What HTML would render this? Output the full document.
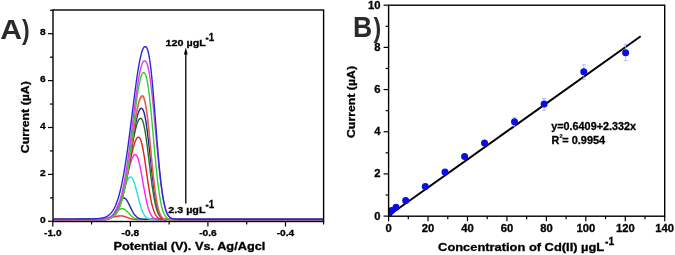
<!DOCTYPE html>
<html><head><meta charset="utf-8"><style>
html,body{margin:0;padding:0;background:#fff;}
body{width:675px;height:255px;overflow:hidden;}
svg{display:block;will-change:transform;}
text{font-family:"Liberation Sans", sans-serif;font-weight:bold;fill:#000;stroke:#000;stroke-width:0.3px;}
.tka{font-size:9px;}
.tkb{font-size:10.4px;}
.ti{font-size:10.8px;}
.pl{font-size:27px;fill:#2b2b2b;stroke:none;}
.an{font-size:9.6px;}
.sp{font-size:10.3px;}
.sp2{font-size:10.6px;}
.eq{font-size:10.8px;}
</style></head><body>
<svg width="675" height="255" viewBox="0 0 675 255">
<defs>
<clipPath id="clipA"><rect x="53.0" y="10.0" width="270.6" height="211.5"/></clipPath>
<clipPath id="clipB"><rect x="388.6" y="5.2" width="276.1" height="211.0"/></clipPath>
</defs>
<g clip-path="url(#clipA)">
<path d="M53.80,219.60 L54.30,219.60 L54.80,219.60 L55.30,219.60 L55.80,219.60 L56.30,219.60 L56.80,219.60 L57.30,219.60 L57.80,219.60 L58.30,219.60 L58.80,219.60 L59.30,219.60 L59.80,219.60 L60.30,219.60 L60.80,219.60 L61.30,219.60 L61.80,219.60 L62.30,219.60 L62.80,219.60 L63.30,219.60 L63.80,219.60 L64.30,219.60 L64.80,219.60 L65.30,219.60 L65.80,219.59 L66.30,219.59 L66.80,219.59 L67.30,219.59 L67.80,219.59 L68.30,219.59 L68.80,219.59 L69.30,219.59 L69.80,219.59 L70.30,219.59 L70.80,219.59 L71.30,219.59 L71.80,219.59 L72.30,219.59 L72.80,219.59 L73.30,219.59 L73.80,219.59 L74.30,219.59 L74.80,219.59 L75.30,219.59 L75.80,219.59 L76.30,219.59 L76.80,219.59 L77.30,219.59 L77.80,219.59 L78.30,219.59 L78.80,219.59 L79.30,219.59 L79.80,219.58 L80.30,219.58 L80.80,219.58 L81.30,219.58 L81.80,219.58 L82.30,219.58 L82.80,219.58 L83.30,219.58 L83.80,219.58 L84.30,219.58 L84.80,219.58 L85.30,219.58 L85.80,219.57 L86.30,219.57 L86.80,219.57 L87.30,219.57 L87.80,219.57 L88.30,219.57 L88.80,219.56 L89.30,219.56 L89.80,219.56 L90.30,219.56 L90.80,219.55 L91.30,219.55 L91.80,219.54 L92.30,219.54 L92.80,219.53 L93.30,219.53 L93.80,219.52 L94.30,219.51 L94.80,219.50 L95.30,219.49 L95.80,219.48 L96.30,219.47 L96.80,219.45 L97.30,219.43 L97.80,219.41 L98.30,219.39 L98.80,219.37 L99.30,219.34 L99.80,219.31 L100.30,219.28 L100.80,219.25 L101.30,219.21 L101.80,219.16 L102.30,219.12 L102.80,219.07 L103.30,219.01 L103.80,218.95 L104.30,218.89 L104.80,218.82 L105.30,218.74 L105.80,218.66 L106.30,218.58 L106.80,218.49 L107.30,218.40 L107.80,218.30 L108.30,218.20 L108.80,218.09 L109.30,217.98 L109.80,217.87 L110.30,217.75 L110.80,217.63 L111.30,217.51 L111.80,217.39 L112.30,217.27 L112.80,217.14 L113.30,217.02 L113.80,216.91 L114.30,216.79 L114.80,216.68 L115.30,216.57 L115.80,216.47 L116.30,216.37 L116.80,216.28 L117.30,216.20 L117.80,216.13 L118.30,216.06 L118.80,216.01 L119.30,215.97 L119.80,215.93 L120.30,215.91 L120.80,215.90 L121.30,215.90 L121.80,215.93 L122.30,215.99 L122.80,216.06 L123.30,216.16 L123.80,216.29 L124.30,216.42 L124.80,216.58 L125.30,216.75 L125.80,216.93 L126.30,217.11 L126.80,217.30 L127.30,217.49 L127.80,217.67 L128.30,217.86 L128.80,218.04 L129.30,218.20 L129.80,218.36 L130.30,218.51 L130.80,218.65 L131.30,218.78 L131.80,218.89 L132.30,219.00 L132.80,219.09 L133.30,219.17 L133.80,219.24 L134.30,219.30 L134.80,219.35 L135.30,219.40 L135.80,219.44 L136.30,219.47 L136.80,219.49 L137.30,219.52 L137.80,219.53 L138.30,219.55 L138.80,219.56 L139.30,219.57 L139.80,219.58 L140.30,219.58 L140.80,219.59 L141.30,219.59 L141.80,219.59 L142.30,219.59 L142.80,219.60 L143.30,219.60 L143.80,219.60 L144.30,219.60 L144.80,219.60 L145.30,219.60 L145.80,219.60 L146.30,219.60 L146.80,219.60 L147.30,219.60 L147.80,219.60 L148.30,219.60 L148.80,219.60 L149.30,219.60 L149.80,219.60 L150.30,219.60 L150.80,219.60 L151.30,219.60 L151.80,219.60 L152.30,219.60 L152.80,219.60 L153.30,219.60 L153.80,219.60 L154.30,219.60 L154.80,219.60 L155.30,219.60 L155.80,219.60 L156.30,219.60 L156.80,219.60 L157.30,219.60 L157.80,219.60 L158.30,219.60 L158.80,219.60 L159.30,219.60 L159.80,219.60 L160.30,219.60 L160.80,219.60 L161.30,219.60 L161.80,219.60 L162.30,219.60 L162.80,219.60 L163.30,219.60 L163.80,219.60 L164.30,219.60 L164.80,219.60 L165.30,219.60 L165.80,219.60 L166.30,219.60 L166.80,219.60 L167.30,219.60 L167.80,219.60 L168.30,219.60 L168.80,219.60 L169.30,219.60 L169.80,219.60 L170.30,219.60 L170.80,219.60 L171.30,219.60 L171.80,219.60 L172.30,219.60 L172.80,219.60 L173.30,219.60 L173.80,219.60 L174.30,219.60 L174.80,219.60 L175.30,219.60 L175.80,219.60 L176.30,219.60 L176.80,219.60 L177.30,219.60 L177.80,219.60 L178.30,219.60 L178.80,219.60 L179.30,219.60 L179.80,219.60 L180.30,219.60 L180.80,219.60 L181.30,219.60 L181.80,219.60 L182.30,219.60 L182.80,219.60 L183.30,219.60 L183.80,219.60 L184.30,219.60 L184.80,219.60 L185.30,219.60 L185.80,219.60 L186.30,219.60 L186.80,219.60 L187.30,219.60 L187.80,219.60 L188.30,219.60 L188.80,219.60 L189.30,219.60 L189.80,219.60 L190.30,219.60 L190.80,219.60 L191.30,219.60 L191.80,219.60 L192.30,219.60 L192.80,219.60 L193.30,219.60 L193.80,219.60 L194.30,219.60 L194.80,219.60 L195.30,219.60 L195.80,219.60 L196.30,219.60 L196.80,219.60 L197.30,219.60 L197.80,219.60 L198.30,219.60 L198.80,219.60 L199.30,219.60 L199.80,219.60 L200.30,219.60 L200.80,219.60 L201.30,219.60 L201.80,219.60 L202.30,219.60 L202.80,219.60 L203.30,219.60 L203.80,219.60 L204.30,219.60 L204.80,219.60 L205.30,219.60 L205.80,219.60 L206.30,219.60 L206.80,219.60 L207.30,219.60 L207.80,219.60 L208.30,219.60 L208.80,219.60 L209.30,219.60 L209.80,219.60 L210.30,219.60 L210.80,219.60 L211.30,219.60 L211.80,219.60 L212.30,219.60 L212.80,219.60 L213.30,219.60 L213.80,219.60 L214.30,219.60 L214.80,219.60 L215.30,219.60 L215.80,219.60 L216.30,219.60 L216.80,219.60 L217.30,219.60 L217.80,219.60 L218.30,219.60 L218.80,219.60 L219.30,219.60 L219.80,219.60 L220.30,219.60 L220.80,219.60 L221.30,219.60 L221.80,219.60 L222.30,219.60 L222.80,219.60 L223.30,219.60 L223.80,219.60 L224.30,219.60 L224.80,219.60 L225.30,219.60 L225.80,219.60 L226.30,219.60 L226.80,219.60 L227.30,219.60 L227.80,219.60 L228.30,219.60 L228.80,219.60 L229.30,219.60 L229.80,219.60 L230.30,219.60 L230.80,219.60 L231.30,219.60 L231.80,219.60 L232.30,219.60 L232.80,219.60 L233.30,219.60 L233.80,219.60 L234.30,219.60 L234.80,219.60 L235.30,219.60 L235.80,219.60 L236.30,219.60 L236.80,219.60 L237.30,219.60 L237.80,219.60 L238.30,219.60 L238.80,219.60 L239.30,219.60 L239.80,219.60 L240.30,219.60 L240.80,219.60 L241.30,219.60 L241.80,219.60 L242.30,219.60 L242.80,219.60 L243.30,219.60 L243.80,219.60 L244.30,219.60 L244.80,219.60 L245.30,219.60 L245.80,219.60 L246.30,219.60 L246.80,219.60 L247.30,219.60 L247.80,219.60 L248.30,219.60 L248.80,219.60 L249.30,219.60 L249.80,219.60 L250.30,219.60 L250.80,219.60 L251.30,219.60 L251.80,219.60 L252.30,219.60 L252.80,219.60 L253.30,219.60 L253.80,219.60 L254.30,219.60 L254.80,219.60 L255.30,219.60 L255.80,219.60 L256.30,219.60 L256.80,219.60 L257.30,219.60 L257.80,219.60 L258.30,219.60 L258.80,219.60 L259.30,219.60 L259.80,219.60 L260.30,219.60 L260.80,219.60 L261.30,219.60 L261.80,219.60 L262.30,219.60 L262.80,219.60 L263.30,219.60 L263.80,219.60 L264.30,219.60 L264.80,219.60 L265.30,219.60 L265.80,219.60 L266.30,219.60 L266.80,219.60 L267.30,219.60 L267.80,219.60 L268.30,219.60 L268.80,219.60 L269.30,219.60 L269.80,219.60 L270.30,219.60 L270.80,219.60 L271.30,219.60 L271.80,219.60 L272.30,219.60 L272.80,219.60 L273.30,219.60 L273.80,219.60 L274.30,219.60 L274.80,219.60 L275.30,219.60 L275.80,219.60 L276.30,219.60 L276.80,219.60 L277.30,219.60 L277.80,219.60 L278.30,219.60 L278.80,219.60 L279.30,219.60 L279.80,219.60 L280.30,219.60 L280.80,219.60 L281.30,219.60 L281.80,219.60 L282.30,219.60 L282.80,219.60 L283.30,219.60 L283.80,219.60 L284.30,219.60 L284.80,219.60 L285.30,219.60 L285.80,219.60 L286.30,219.60 L286.80,219.60 L287.30,219.60 L287.80,219.60 L288.30,219.60 L288.80,219.60 L289.30,219.60 L289.80,219.60 L290.30,219.60 L290.80,219.60 L291.30,219.60 L291.80,219.60 L292.30,219.60 L292.80,219.60 L293.30,219.60 L293.80,219.60 L294.30,219.60 L294.80,219.60 L295.30,219.60 L295.80,219.60 L296.30,219.60 L296.80,219.60 L297.30,219.60 L297.80,219.60 L298.30,219.60 L298.80,219.60 L299.30,219.60 L299.80,219.60 L300.30,219.60 L300.80,219.60 L301.30,219.60 L301.80,219.60 L302.30,219.60 L302.80,219.60 L303.30,219.60 L303.80,219.60 L304.30,219.60 L304.80,219.60 L305.30,219.60 L305.80,219.60 L306.30,219.60 L306.80,219.60 L307.30,219.60 L307.80,219.60 L308.30,219.60 L308.80,219.60 L309.30,219.60 L309.80,219.60 L310.30,219.60 L310.80,219.60 L311.30,219.60 L311.80,219.60 L312.30,219.60 L312.80,219.60 L313.30,219.60 L313.80,219.60 L314.30,219.60 L314.80,219.60 L315.30,219.60 L315.80,219.60 L316.30,219.60 L316.80,219.60 L317.30,219.60 L317.80,219.60 L318.30,219.60 L318.80,219.60 L319.30,219.60 L319.80,219.60 L320.30,219.60 L320.80,219.60 L321.30,219.60 L321.80,219.60 L322.30,219.60 L322.80,219.60" fill="none" stroke="#e83030" stroke-width="1.4"/>
<path d="M53.80,219.40 L54.30,219.40 L54.80,219.40 L55.30,219.40 L55.80,219.40 L56.30,219.40 L56.80,219.40 L57.30,219.40 L57.80,219.40 L58.30,219.40 L58.80,219.40 L59.30,219.40 L59.80,219.40 L60.30,219.40 L60.80,219.40 L61.30,219.40 L61.80,219.40 L62.30,219.40 L62.80,219.40 L63.30,219.40 L63.80,219.40 L64.30,219.40 L64.80,219.40 L65.30,219.40 L65.80,219.40 L66.30,219.40 L66.80,219.40 L67.30,219.40 L67.80,219.40 L68.30,219.40 L68.80,219.40 L69.30,219.40 L69.80,219.40 L70.30,219.40 L70.80,219.39 L71.30,219.39 L71.80,219.39 L72.30,219.39 L72.80,219.39 L73.30,219.39 L73.80,219.39 L74.30,219.39 L74.80,219.39 L75.30,219.39 L75.80,219.39 L76.30,219.39 L76.80,219.39 L77.30,219.39 L77.80,219.39 L78.30,219.39 L78.80,219.39 L79.30,219.39 L79.80,219.39 L80.30,219.39 L80.80,219.38 L81.30,219.38 L81.80,219.38 L82.30,219.38 L82.80,219.38 L83.30,219.38 L83.80,219.38 L84.30,219.38 L84.80,219.38 L85.30,219.38 L85.80,219.37 L86.30,219.37 L86.80,219.37 L87.30,219.37 L87.80,219.37 L88.30,219.37 L88.80,219.36 L89.30,219.36 L89.80,219.36 L90.30,219.36 L90.80,219.36 L91.30,219.35 L91.80,219.35 L92.30,219.35 L92.80,219.35 L93.30,219.34 L93.80,219.34 L94.30,219.34 L94.80,219.33 L95.30,219.33 L95.80,219.32 L96.30,219.32 L96.80,219.31 L97.30,219.30 L97.80,219.30 L98.30,219.29 L98.80,219.27 L99.30,219.26 L99.80,219.25 L100.30,219.23 L100.80,219.21 L101.30,219.18 L101.80,219.15 L102.30,219.12 L102.80,219.08 L103.30,219.03 L103.80,218.98 L104.30,218.91 L104.80,218.84 L105.30,218.75 L105.80,218.65 L106.30,218.54 L106.80,218.41 L107.30,218.26 L107.80,218.09 L108.30,217.90 L108.80,217.69 L109.30,217.46 L109.80,217.20 L110.30,216.92 L110.80,216.61 L111.30,216.28 L111.80,215.92 L112.30,215.54 L112.80,215.14 L113.30,214.72 L113.80,214.28 L114.30,213.83 L114.80,213.37 L115.30,212.90 L115.80,212.42 L116.30,211.96 L116.80,211.50 L117.30,211.05 L117.80,210.63 L118.30,210.23 L118.80,209.87 L119.30,209.54 L119.80,209.25 L120.30,209.01 L120.80,208.83 L121.30,208.69 L121.80,208.62 L122.30,208.60 L122.80,208.65 L123.30,208.77 L123.80,208.95 L124.30,209.20 L124.80,209.52 L125.30,209.88 L125.80,210.30 L126.30,210.76 L126.80,211.25 L127.30,211.76 L127.80,212.29 L128.30,212.84 L128.80,213.38 L129.30,213.91 L129.80,214.44 L130.30,214.94 L130.80,215.42 L131.30,215.87 L131.80,216.30 L132.30,216.69 L132.80,217.05 L133.30,217.37 L133.80,217.67 L134.30,217.93 L134.80,218.16 L135.30,218.36 L135.80,218.54 L136.30,218.69 L136.80,218.81 L137.30,218.92 L137.80,219.01 L138.30,219.09 L138.80,219.15 L139.30,219.21 L139.80,219.25 L140.30,219.28 L140.80,219.31 L141.30,219.33 L141.80,219.35 L142.30,219.36 L142.80,219.37 L143.30,219.38 L143.80,219.38 L144.30,219.39 L144.80,219.39 L145.30,219.39 L145.80,219.40 L146.30,219.40 L146.80,219.40 L147.30,219.40 L147.80,219.40 L148.30,219.40 L148.80,219.40 L149.30,219.40 L149.80,219.40 L150.30,219.40 L150.80,219.40 L151.30,219.40 L151.80,219.40 L152.30,219.40 L152.80,219.40 L153.30,219.40 L153.80,219.40 L154.30,219.40 L154.80,219.40 L155.30,219.40 L155.80,219.40 L156.30,219.40 L156.80,219.40 L157.30,219.40 L157.80,219.40 L158.30,219.40 L158.80,219.40 L159.30,219.40 L159.80,219.40 L160.30,219.40 L160.80,219.40 L161.30,219.40 L161.80,219.40 L162.30,219.40 L162.80,219.40 L163.30,219.40 L163.80,219.40 L164.30,219.40 L164.80,219.40 L165.30,219.40 L165.80,219.40 L166.30,219.40 L166.80,219.40 L167.30,219.40 L167.80,219.40 L168.30,219.40 L168.80,219.40 L169.30,219.40 L169.80,219.40 L170.30,219.40 L170.80,219.40 L171.30,219.40 L171.80,219.40 L172.30,219.40 L172.80,219.40 L173.30,219.40 L173.80,219.40 L174.30,219.40 L174.80,219.40 L175.30,219.40 L175.80,219.40 L176.30,219.40 L176.80,219.40 L177.30,219.40 L177.80,219.40 L178.30,219.40 L178.80,219.40 L179.30,219.40 L179.80,219.40 L180.30,219.40 L180.80,219.40 L181.30,219.40 L181.80,219.40 L182.30,219.40 L182.80,219.40 L183.30,219.40 L183.80,219.40 L184.30,219.40 L184.80,219.40 L185.30,219.40 L185.80,219.40 L186.30,219.40 L186.80,219.40 L187.30,219.40 L187.80,219.40 L188.30,219.40 L188.80,219.40 L189.30,219.40 L189.80,219.40 L190.30,219.40 L190.80,219.40 L191.30,219.40 L191.80,219.40 L192.30,219.40 L192.80,219.40 L193.30,219.40 L193.80,219.40 L194.30,219.40 L194.80,219.40 L195.30,219.40 L195.80,219.40 L196.30,219.40 L196.80,219.40 L197.30,219.40 L197.80,219.40 L198.30,219.40 L198.80,219.40 L199.30,219.40 L199.80,219.40 L200.30,219.40 L200.80,219.40 L201.30,219.40 L201.80,219.40 L202.30,219.40 L202.80,219.40 L203.30,219.40 L203.80,219.40 L204.30,219.40 L204.80,219.40 L205.30,219.40 L205.80,219.40 L206.30,219.40 L206.80,219.40 L207.30,219.40 L207.80,219.40 L208.30,219.40 L208.80,219.40 L209.30,219.40 L209.80,219.40 L210.30,219.40 L210.80,219.40 L211.30,219.40 L211.80,219.40 L212.30,219.40 L212.80,219.40 L213.30,219.40 L213.80,219.40 L214.30,219.40 L214.80,219.40 L215.30,219.40 L215.80,219.40 L216.30,219.40 L216.80,219.40 L217.30,219.40 L217.80,219.40 L218.30,219.40 L218.80,219.40 L219.30,219.40 L219.80,219.40 L220.30,219.40 L220.80,219.40 L221.30,219.40 L221.80,219.40 L222.30,219.40 L222.80,219.40 L223.30,219.40 L223.80,219.40 L224.30,219.40 L224.80,219.40 L225.30,219.40 L225.80,219.40 L226.30,219.40 L226.80,219.40 L227.30,219.40 L227.80,219.40 L228.30,219.40 L228.80,219.40 L229.30,219.40 L229.80,219.40 L230.30,219.40 L230.80,219.40 L231.30,219.40 L231.80,219.40 L232.30,219.40 L232.80,219.40 L233.30,219.40 L233.80,219.40 L234.30,219.40 L234.80,219.40 L235.30,219.40 L235.80,219.40 L236.30,219.40 L236.80,219.40 L237.30,219.40 L237.80,219.40 L238.30,219.40 L238.80,219.40 L239.30,219.40 L239.80,219.40 L240.30,219.40 L240.80,219.40 L241.30,219.40 L241.80,219.40 L242.30,219.40 L242.80,219.40 L243.30,219.40 L243.80,219.40 L244.30,219.40 L244.80,219.40 L245.30,219.40 L245.80,219.40 L246.30,219.40 L246.80,219.40 L247.30,219.40 L247.80,219.40 L248.30,219.40 L248.80,219.40 L249.30,219.40 L249.80,219.40 L250.30,219.40 L250.80,219.40 L251.30,219.40 L251.80,219.40 L252.30,219.40 L252.80,219.40 L253.30,219.40 L253.80,219.40 L254.30,219.40 L254.80,219.40 L255.30,219.40 L255.80,219.40 L256.30,219.40 L256.80,219.40 L257.30,219.40 L257.80,219.40 L258.30,219.40 L258.80,219.40 L259.30,219.40 L259.80,219.40 L260.30,219.40 L260.80,219.40 L261.30,219.40 L261.80,219.40 L262.30,219.40 L262.80,219.40 L263.30,219.40 L263.80,219.40 L264.30,219.40 L264.80,219.40 L265.30,219.40 L265.80,219.40 L266.30,219.40 L266.80,219.40 L267.30,219.40 L267.80,219.40 L268.30,219.40 L268.80,219.40 L269.30,219.40 L269.80,219.40 L270.30,219.40 L270.80,219.40 L271.30,219.40 L271.80,219.40 L272.30,219.40 L272.80,219.40 L273.30,219.40 L273.80,219.40 L274.30,219.40 L274.80,219.40 L275.30,219.40 L275.80,219.40 L276.30,219.40 L276.80,219.40 L277.30,219.40 L277.80,219.40 L278.30,219.40 L278.80,219.40 L279.30,219.40 L279.80,219.40 L280.30,219.40 L280.80,219.40 L281.30,219.40 L281.80,219.40 L282.30,219.40 L282.80,219.40 L283.30,219.40 L283.80,219.40 L284.30,219.40 L284.80,219.40 L285.30,219.40 L285.80,219.40 L286.30,219.40 L286.80,219.40 L287.30,219.40 L287.80,219.40 L288.30,219.40 L288.80,219.40 L289.30,219.40 L289.80,219.40 L290.30,219.40 L290.80,219.40 L291.30,219.40 L291.80,219.40 L292.30,219.40 L292.80,219.40 L293.30,219.40 L293.80,219.40 L294.30,219.40 L294.80,219.40 L295.30,219.40 L295.80,219.40 L296.30,219.40 L296.80,219.40 L297.30,219.40 L297.80,219.40 L298.30,219.40 L298.80,219.40 L299.30,219.40 L299.80,219.40 L300.30,219.40 L300.80,219.40 L301.30,219.40 L301.80,219.40 L302.30,219.40 L302.80,219.40 L303.30,219.40 L303.80,219.40 L304.30,219.40 L304.80,219.40 L305.30,219.40 L305.80,219.40 L306.30,219.40 L306.80,219.40 L307.30,219.40 L307.80,219.40 L308.30,219.40 L308.80,219.40 L309.30,219.40 L309.80,219.40 L310.30,219.40 L310.80,219.40 L311.30,219.40 L311.80,219.40 L312.30,219.40 L312.80,219.40 L313.30,219.40 L313.80,219.40 L314.30,219.40 L314.80,219.40 L315.30,219.40 L315.80,219.40 L316.30,219.40 L316.80,219.40 L317.30,219.40 L317.80,219.40 L318.30,219.40 L318.80,219.40 L319.30,219.40 L319.80,219.40 L320.30,219.40 L320.80,219.40 L321.30,219.40 L321.80,219.40 L322.30,219.40 L322.80,219.40" fill="none" stroke="#30d030" stroke-width="1.4"/>
<path d="M53.80,219.30 L54.30,219.30 L54.80,219.30 L55.30,219.30 L55.80,219.30 L56.30,219.30 L56.80,219.30 L57.30,219.30 L57.80,219.30 L58.30,219.30 L58.80,219.30 L59.30,219.30 L59.80,219.30 L60.30,219.30 L60.80,219.30 L61.30,219.30 L61.80,219.30 L62.30,219.30 L62.80,219.30 L63.30,219.30 L63.80,219.30 L64.30,219.30 L64.80,219.30 L65.30,219.30 L65.80,219.30 L66.30,219.30 L66.80,219.30 L67.30,219.30 L67.80,219.30 L68.30,219.30 L68.80,219.30 L69.30,219.30 L69.80,219.30 L70.30,219.30 L70.80,219.30 L71.30,219.30 L71.80,219.30 L72.30,219.30 L72.80,219.30 L73.30,219.30 L73.80,219.30 L74.30,219.30 L74.80,219.29 L75.30,219.29 L75.80,219.29 L76.30,219.29 L76.80,219.29 L77.30,219.29 L77.80,219.29 L78.30,219.29 L78.80,219.29 L79.30,219.29 L79.80,219.29 L80.30,219.29 L80.80,219.29 L81.30,219.29 L81.80,219.29 L82.30,219.29 L82.80,219.28 L83.30,219.28 L83.80,219.28 L84.30,219.28 L84.80,219.28 L85.30,219.28 L85.80,219.28 L86.30,219.28 L86.80,219.27 L87.30,219.27 L87.80,219.27 L88.30,219.27 L88.80,219.27 L89.30,219.27 L89.80,219.26 L90.30,219.26 L90.80,219.26 L91.30,219.26 L91.80,219.25 L92.30,219.25 L92.80,219.25 L93.30,219.24 L93.80,219.24 L94.30,219.24 L94.80,219.23 L95.30,219.23 L95.80,219.22 L96.30,219.22 L96.80,219.21 L97.30,219.21 L97.80,219.20 L98.30,219.20 L98.80,219.19 L99.30,219.18 L99.80,219.17 L100.30,219.16 L100.80,219.15 L101.30,219.14 L101.80,219.13 L102.30,219.11 L102.80,219.09 L103.30,219.07 L103.80,219.04 L104.30,219.01 L104.80,218.97 L105.30,218.92 L105.80,218.87 L106.30,218.80 L106.80,218.71 L107.30,218.61 L107.80,218.49 L108.30,218.34 L108.80,218.17 L109.30,217.96 L109.80,217.72 L110.30,217.43 L110.80,217.10 L111.30,216.72 L111.80,216.28 L112.30,215.78 L112.80,215.21 L113.30,214.58 L113.80,213.88 L114.30,213.12 L114.80,212.29 L115.30,211.39 L115.80,210.44 L116.30,209.44 L116.80,208.39 L117.30,207.32 L117.80,206.23 L118.30,205.13 L118.80,204.05 L119.30,203.01 L119.80,202.01 L120.30,201.08 L120.80,200.25 L121.30,199.52 L121.80,198.91 L122.30,198.43 L122.80,198.10 L123.30,197.93 L123.80,197.91 L124.30,198.02 L124.80,198.25 L125.30,198.61 L125.80,199.08 L126.30,199.67 L126.80,200.37 L127.30,201.16 L127.80,202.02 L128.30,202.96 L128.80,203.94 L129.30,204.96 L129.80,206.00 L130.30,207.05 L130.80,208.09 L131.30,209.10 L131.80,210.09 L132.30,211.04 L132.80,211.94 L133.30,212.79 L133.80,213.58 L134.30,214.31 L134.80,214.97 L135.30,215.57 L135.80,216.11 L136.30,216.59 L136.80,217.02 L137.30,217.39 L137.80,217.71 L138.30,217.99 L138.80,218.22 L139.30,218.42 L139.80,218.59 L140.30,218.73 L140.80,218.84 L141.30,218.94 L141.80,219.02 L142.30,219.08 L142.80,219.13 L143.30,219.17 L143.80,219.20 L144.30,219.22 L144.80,219.24 L145.30,219.26 L145.80,219.27 L146.30,219.28 L146.80,219.28 L147.30,219.29 L147.80,219.29 L148.30,219.29 L148.80,219.30 L149.30,219.30 L149.80,219.30 L150.30,219.30 L150.80,219.30 L151.30,219.30 L151.80,219.30 L152.30,219.30 L152.80,219.30 L153.30,219.30 L153.80,219.30 L154.30,219.30 L154.80,219.30 L155.30,219.30 L155.80,219.30 L156.30,219.30 L156.80,219.30 L157.30,219.30 L157.80,219.30 L158.30,219.30 L158.80,219.30 L159.30,219.30 L159.80,219.30 L160.30,219.30 L160.80,219.30 L161.30,219.30 L161.80,219.30 L162.30,219.30 L162.80,219.30 L163.30,219.30 L163.80,219.30 L164.30,219.30 L164.80,219.30 L165.30,219.30 L165.80,219.30 L166.30,219.30 L166.80,219.30 L167.30,219.30 L167.80,219.30 L168.30,219.30 L168.80,219.30 L169.30,219.30 L169.80,219.30 L170.30,219.30 L170.80,219.30 L171.30,219.30 L171.80,219.30 L172.30,219.30 L172.80,219.30 L173.30,219.30 L173.80,219.30 L174.30,219.30 L174.80,219.30 L175.30,219.30 L175.80,219.30 L176.30,219.30 L176.80,219.30 L177.30,219.30 L177.80,219.30 L178.30,219.30 L178.80,219.30 L179.30,219.30 L179.80,219.30 L180.30,219.30 L180.80,219.30 L181.30,219.30 L181.80,219.30 L182.30,219.30 L182.80,219.30 L183.30,219.30 L183.80,219.30 L184.30,219.30 L184.80,219.30 L185.30,219.30 L185.80,219.30 L186.30,219.30 L186.80,219.30 L187.30,219.30 L187.80,219.30 L188.30,219.30 L188.80,219.30 L189.30,219.30 L189.80,219.30 L190.30,219.30 L190.80,219.30 L191.30,219.30 L191.80,219.30 L192.30,219.30 L192.80,219.30 L193.30,219.30 L193.80,219.30 L194.30,219.30 L194.80,219.30 L195.30,219.30 L195.80,219.30 L196.30,219.30 L196.80,219.30 L197.30,219.30 L197.80,219.30 L198.30,219.30 L198.80,219.30 L199.30,219.30 L199.80,219.30 L200.30,219.30 L200.80,219.30 L201.30,219.30 L201.80,219.30 L202.30,219.30 L202.80,219.30 L203.30,219.30 L203.80,219.30 L204.30,219.30 L204.80,219.30 L205.30,219.30 L205.80,219.30 L206.30,219.30 L206.80,219.30 L207.30,219.30 L207.80,219.30 L208.30,219.30 L208.80,219.30 L209.30,219.30 L209.80,219.30 L210.30,219.30 L210.80,219.30 L211.30,219.30 L211.80,219.30 L212.30,219.30 L212.80,219.30 L213.30,219.30 L213.80,219.30 L214.30,219.30 L214.80,219.30 L215.30,219.30 L215.80,219.30 L216.30,219.30 L216.80,219.30 L217.30,219.30 L217.80,219.30 L218.30,219.30 L218.80,219.30 L219.30,219.30 L219.80,219.30 L220.30,219.30 L220.80,219.30 L221.30,219.30 L221.80,219.30 L222.30,219.30 L222.80,219.30 L223.30,219.30 L223.80,219.30 L224.30,219.30 L224.80,219.30 L225.30,219.30 L225.80,219.30 L226.30,219.30 L226.80,219.30 L227.30,219.30 L227.80,219.30 L228.30,219.30 L228.80,219.30 L229.30,219.30 L229.80,219.30 L230.30,219.30 L230.80,219.30 L231.30,219.30 L231.80,219.30 L232.30,219.30 L232.80,219.30 L233.30,219.30 L233.80,219.30 L234.30,219.30 L234.80,219.30 L235.30,219.30 L235.80,219.30 L236.30,219.30 L236.80,219.30 L237.30,219.30 L237.80,219.30 L238.30,219.30 L238.80,219.30 L239.30,219.30 L239.80,219.30 L240.30,219.30 L240.80,219.30 L241.30,219.30 L241.80,219.30 L242.30,219.30 L242.80,219.30 L243.30,219.30 L243.80,219.30 L244.30,219.30 L244.80,219.30 L245.30,219.30 L245.80,219.30 L246.30,219.30 L246.80,219.30 L247.30,219.30 L247.80,219.30 L248.30,219.30 L248.80,219.30 L249.30,219.30 L249.80,219.30 L250.30,219.30 L250.80,219.30 L251.30,219.30 L251.80,219.30 L252.30,219.30 L252.80,219.30 L253.30,219.30 L253.80,219.30 L254.30,219.30 L254.80,219.30 L255.30,219.30 L255.80,219.30 L256.30,219.30 L256.80,219.30 L257.30,219.30 L257.80,219.30 L258.30,219.30 L258.80,219.30 L259.30,219.30 L259.80,219.30 L260.30,219.30 L260.80,219.30 L261.30,219.30 L261.80,219.30 L262.30,219.30 L262.80,219.30 L263.30,219.30 L263.80,219.30 L264.30,219.30 L264.80,219.30 L265.30,219.30 L265.80,219.30 L266.30,219.30 L266.80,219.30 L267.30,219.30 L267.80,219.30 L268.30,219.30 L268.80,219.30 L269.30,219.30 L269.80,219.30 L270.30,219.30 L270.80,219.30 L271.30,219.30 L271.80,219.30 L272.30,219.30 L272.80,219.30 L273.30,219.30 L273.80,219.30 L274.30,219.30 L274.80,219.30 L275.30,219.30 L275.80,219.30 L276.30,219.30 L276.80,219.30 L277.30,219.30 L277.80,219.30 L278.30,219.30 L278.80,219.30 L279.30,219.30 L279.80,219.30 L280.30,219.30 L280.80,219.30 L281.30,219.30 L281.80,219.30 L282.30,219.30 L282.80,219.30 L283.30,219.30 L283.80,219.30 L284.30,219.30 L284.80,219.30 L285.30,219.30 L285.80,219.30 L286.30,219.30 L286.80,219.30 L287.30,219.30 L287.80,219.30 L288.30,219.30 L288.80,219.30 L289.30,219.30 L289.80,219.30 L290.30,219.30 L290.80,219.30 L291.30,219.30 L291.80,219.30 L292.30,219.30 L292.80,219.30 L293.30,219.30 L293.80,219.30 L294.30,219.30 L294.80,219.30 L295.30,219.30 L295.80,219.30 L296.30,219.30 L296.80,219.30 L297.30,219.30 L297.80,219.30 L298.30,219.30 L298.80,219.30 L299.30,219.30 L299.80,219.30 L300.30,219.30 L300.80,219.30 L301.30,219.30 L301.80,219.30 L302.30,219.30 L302.80,219.30 L303.30,219.30 L303.80,219.30 L304.30,219.30 L304.80,219.30 L305.30,219.30 L305.80,219.30 L306.30,219.30 L306.80,219.30 L307.30,219.30 L307.80,219.30 L308.30,219.30 L308.80,219.30 L309.30,219.30 L309.80,219.30 L310.30,219.30 L310.80,219.30 L311.30,219.30 L311.80,219.30 L312.30,219.30 L312.80,219.30 L313.30,219.30 L313.80,219.30 L314.30,219.30 L314.80,219.30 L315.30,219.30 L315.80,219.30 L316.30,219.30 L316.80,219.30 L317.30,219.30 L317.80,219.30 L318.30,219.30 L318.80,219.30 L319.30,219.30 L319.80,219.30 L320.30,219.30 L320.80,219.30 L321.30,219.30 L321.80,219.30 L322.30,219.30 L322.80,219.30" fill="none" stroke="#2020c0" stroke-width="1.4"/>
<path d="M53.80,219.80 L54.30,219.80 L54.80,219.80 L55.30,219.80 L55.80,219.80 L56.30,219.80 L56.80,219.80 L57.30,219.80 L57.80,219.80 L58.30,219.80 L58.80,219.80 L59.30,219.80 L59.80,219.80 L60.30,219.80 L60.80,219.80 L61.30,219.80 L61.80,219.80 L62.30,219.80 L62.80,219.80 L63.30,219.79 L63.80,219.79 L64.30,219.79 L64.80,219.79 L65.30,219.79 L65.80,219.79 L66.30,219.79 L66.80,219.79 L67.30,219.79 L67.80,219.79 L68.30,219.79 L68.80,219.79 L69.30,219.79 L69.80,219.79 L70.30,219.79 L70.80,219.79 L71.30,219.79 L71.80,219.79 L72.30,219.79 L72.80,219.79 L73.30,219.79 L73.80,219.79 L74.30,219.78 L74.80,219.78 L75.30,219.78 L75.80,219.78 L76.30,219.78 L76.80,219.78 L77.30,219.78 L77.80,219.78 L78.30,219.78 L78.80,219.78 L79.30,219.77 L79.80,219.77 L80.30,219.77 L80.80,219.77 L81.30,219.77 L81.80,219.77 L82.30,219.77 L82.80,219.76 L83.30,219.76 L83.80,219.76 L84.30,219.76 L84.80,219.76 L85.30,219.76 L85.80,219.75 L86.30,219.75 L86.80,219.75 L87.30,219.75 L87.80,219.74 L88.30,219.74 L88.80,219.74 L89.30,219.74 L89.80,219.73 L90.30,219.73 L90.80,219.73 L91.30,219.72 L91.80,219.72 L92.30,219.71 L92.80,219.71 L93.30,219.71 L93.80,219.70 L94.30,219.70 L94.80,219.69 L95.30,219.69 L95.80,219.68 L96.30,219.67 L96.80,219.67 L97.30,219.66 L97.80,219.65 L98.30,219.65 L98.80,219.64 L99.30,219.63 L99.80,219.62 L100.30,219.61 L100.80,219.59 L101.30,219.58 L101.80,219.56 L102.30,219.54 L102.80,219.52 L103.30,219.50 L103.80,219.47 L104.30,219.43 L104.80,219.39 L105.30,219.35 L105.80,219.29 L106.30,219.23 L106.80,219.16 L107.30,219.07 L107.80,218.97 L108.30,218.85 L108.80,218.72 L109.30,218.56 L109.80,218.37 L110.30,218.16 L110.80,217.91 L111.30,217.63 L111.80,217.31 L112.30,216.94 L112.80,216.53 L113.30,216.06 L113.80,215.54 L114.30,214.95 L114.80,214.30 L115.30,213.58 L115.80,212.79 L116.30,211.92 L116.80,210.97 L117.30,209.94 L117.80,208.84 L118.30,207.65 L118.80,206.38 L119.30,205.04 L119.80,203.63 L120.30,202.15 L120.80,200.61 L121.30,199.02 L121.80,197.39 L122.30,195.73 L122.80,194.05 L123.30,192.37 L123.80,190.69 L124.30,189.05 L124.80,187.44 L125.30,185.90 L125.80,184.42 L126.30,183.05 L126.80,181.77 L127.30,180.63 L127.80,179.62 L128.30,178.76 L128.80,178.06 L129.30,177.53 L129.80,177.18 L130.30,177.01 L130.80,177.03 L131.30,177.24 L131.80,177.65 L132.30,178.28 L132.80,179.12 L133.30,180.16 L133.80,181.39 L134.30,182.79 L134.80,184.35 L135.30,186.05 L135.80,187.85 L136.30,189.74 L136.80,191.69 L137.30,193.67 L137.80,195.66 L138.30,197.64 L138.80,199.58 L139.30,201.47 L139.80,203.28 L140.30,205.01 L140.80,206.65 L141.30,208.18 L141.80,209.59 L142.30,210.89 L142.80,212.08 L143.30,213.15 L143.80,214.11 L144.30,214.97 L144.80,215.72 L145.30,216.38 L145.80,216.95 L146.30,217.44 L146.80,217.86 L147.30,218.21 L147.80,218.51 L148.30,218.76 L148.80,218.97 L149.30,219.14 L149.80,219.28 L150.30,219.39 L150.80,219.48 L151.30,219.55 L151.80,219.61 L152.30,219.66 L152.80,219.69 L153.30,219.72 L153.80,219.74 L154.30,219.75 L154.80,219.77 L155.30,219.78 L155.80,219.78 L156.30,219.79 L156.80,219.79 L157.30,219.79 L157.80,219.80 L158.30,219.80 L158.80,219.80 L159.30,219.80 L159.80,219.80 L160.30,219.80 L160.80,219.80 L161.30,219.80 L161.80,219.80 L162.30,219.80 L162.80,219.80 L163.30,219.80 L163.80,219.80 L164.30,219.80 L164.80,219.80 L165.30,219.80 L165.80,219.80 L166.30,219.80 L166.80,219.80 L167.30,219.80 L167.80,219.80 L168.30,219.80 L168.80,219.80 L169.30,219.80 L169.80,219.80 L170.30,219.80 L170.80,219.80 L171.30,219.80 L171.80,219.80 L172.30,219.80 L172.80,219.80 L173.30,219.80 L173.80,219.80 L174.30,219.80 L174.80,219.80 L175.30,219.80 L175.80,219.80 L176.30,219.80 L176.80,219.80 L177.30,219.80 L177.80,219.80 L178.30,219.80 L178.80,219.80 L179.30,219.80 L179.80,219.80 L180.30,219.80 L180.80,219.80 L181.30,219.80 L181.80,219.80 L182.30,219.80 L182.80,219.80 L183.30,219.80 L183.80,219.80 L184.30,219.80 L184.80,219.80 L185.30,219.80 L185.80,219.80 L186.30,219.80 L186.80,219.80 L187.30,219.80 L187.80,219.80 L188.30,219.80 L188.80,219.80 L189.30,219.80 L189.80,219.80 L190.30,219.80 L190.80,219.80 L191.30,219.80 L191.80,219.80 L192.30,219.80 L192.80,219.80 L193.30,219.80 L193.80,219.80 L194.30,219.80 L194.80,219.80 L195.30,219.80 L195.80,219.80 L196.30,219.80 L196.80,219.80 L197.30,219.80 L197.80,219.80 L198.30,219.80 L198.80,219.80 L199.30,219.80 L199.80,219.80 L200.30,219.80 L200.80,219.80 L201.30,219.80 L201.80,219.80 L202.30,219.80 L202.80,219.80 L203.30,219.80 L203.80,219.80 L204.30,219.80 L204.80,219.80 L205.30,219.80 L205.80,219.80 L206.30,219.80 L206.80,219.80 L207.30,219.80 L207.80,219.80 L208.30,219.80 L208.80,219.80 L209.30,219.80 L209.80,219.80 L210.30,219.80 L210.80,219.80 L211.30,219.80 L211.80,219.80 L212.30,219.80 L212.80,219.80 L213.30,219.80 L213.80,219.80 L214.30,219.80 L214.80,219.80 L215.30,219.80 L215.80,219.80 L216.30,219.80 L216.80,219.80 L217.30,219.80 L217.80,219.80 L218.30,219.80 L218.80,219.80 L219.30,219.80 L219.80,219.80 L220.30,219.80 L220.80,219.80 L221.30,219.80 L221.80,219.80 L222.30,219.80 L222.80,219.80 L223.30,219.80 L223.80,219.80 L224.30,219.80 L224.80,219.80 L225.30,219.80 L225.80,219.80 L226.30,219.80 L226.80,219.80 L227.30,219.80 L227.80,219.80 L228.30,219.80 L228.80,219.80 L229.30,219.80 L229.80,219.80 L230.30,219.80 L230.80,219.80 L231.30,219.80 L231.80,219.80 L232.30,219.80 L232.80,219.80 L233.30,219.80 L233.80,219.80 L234.30,219.80 L234.80,219.80 L235.30,219.80 L235.80,219.80 L236.30,219.80 L236.80,219.80 L237.30,219.80 L237.80,219.80 L238.30,219.80 L238.80,219.80 L239.30,219.80 L239.80,219.80 L240.30,219.80 L240.80,219.80 L241.30,219.80 L241.80,219.80 L242.30,219.80 L242.80,219.80 L243.30,219.80 L243.80,219.80 L244.30,219.80 L244.80,219.80 L245.30,219.80 L245.80,219.80 L246.30,219.80 L246.80,219.80 L247.30,219.80 L247.80,219.80 L248.30,219.80 L248.80,219.80 L249.30,219.80 L249.80,219.80 L250.30,219.80 L250.80,219.80 L251.30,219.80 L251.80,219.80 L252.30,219.80 L252.80,219.80 L253.30,219.80 L253.80,219.80 L254.30,219.80 L254.80,219.80 L255.30,219.80 L255.80,219.80 L256.30,219.80 L256.80,219.80 L257.30,219.80 L257.80,219.80 L258.30,219.80 L258.80,219.80 L259.30,219.80 L259.80,219.80 L260.30,219.80 L260.80,219.80 L261.30,219.80 L261.80,219.80 L262.30,219.80 L262.80,219.80 L263.30,219.80 L263.80,219.80 L264.30,219.80 L264.80,219.80 L265.30,219.80 L265.80,219.80 L266.30,219.80 L266.80,219.80 L267.30,219.80 L267.80,219.80 L268.30,219.80 L268.80,219.80 L269.30,219.80 L269.80,219.80 L270.30,219.80 L270.80,219.80 L271.30,219.80 L271.80,219.80 L272.30,219.80 L272.80,219.80 L273.30,219.80 L273.80,219.80 L274.30,219.80 L274.80,219.80 L275.30,219.80 L275.80,219.80 L276.30,219.80 L276.80,219.80 L277.30,219.80 L277.80,219.80 L278.30,219.80 L278.80,219.80 L279.30,219.80 L279.80,219.80 L280.30,219.80 L280.80,219.80 L281.30,219.80 L281.80,219.80 L282.30,219.80 L282.80,219.80 L283.30,219.80 L283.80,219.80 L284.30,219.80 L284.80,219.80 L285.30,219.80 L285.80,219.80 L286.30,219.80 L286.80,219.80 L287.30,219.80 L287.80,219.80 L288.30,219.80 L288.80,219.80 L289.30,219.80 L289.80,219.80 L290.30,219.80 L290.80,219.80 L291.30,219.80 L291.80,219.80 L292.30,219.80 L292.80,219.80 L293.30,219.80 L293.80,219.80 L294.30,219.80 L294.80,219.80 L295.30,219.80 L295.80,219.80 L296.30,219.80 L296.80,219.80 L297.30,219.80 L297.80,219.80 L298.30,219.80 L298.80,219.80 L299.30,219.80 L299.80,219.80 L300.30,219.80 L300.80,219.80 L301.30,219.80 L301.80,219.80 L302.30,219.80 L302.80,219.80 L303.30,219.80 L303.80,219.80 L304.30,219.80 L304.80,219.80 L305.30,219.80 L305.80,219.80 L306.30,219.80 L306.80,219.80 L307.30,219.80 L307.80,219.80 L308.30,219.80 L308.80,219.80 L309.30,219.80 L309.80,219.80 L310.30,219.80 L310.80,219.80 L311.30,219.80 L311.80,219.80 L312.30,219.80 L312.80,219.80 L313.30,219.80 L313.80,219.80 L314.30,219.80 L314.80,219.80 L315.30,219.80 L315.80,219.80 L316.30,219.80 L316.80,219.80 L317.30,219.80 L317.80,219.80 L318.30,219.80 L318.80,219.80 L319.30,219.80 L319.80,219.80 L320.30,219.80 L320.80,219.80 L321.30,219.80 L321.80,219.80 L322.30,219.80 L322.80,219.80" fill="none" stroke="#20e0e0" stroke-width="1.4"/>
<path d="M53.80,219.69 L54.30,219.69 L54.80,219.69 L55.30,219.69 L55.80,219.69 L56.30,219.69 L56.80,219.69 L57.30,219.69 L57.80,219.69 L58.30,219.69 L58.80,219.69 L59.30,219.69 L59.80,219.69 L60.30,219.69 L60.80,219.69 L61.30,219.69 L61.80,219.69 L62.30,219.69 L62.80,219.69 L63.30,219.69 L63.80,219.69 L64.30,219.69 L64.80,219.69 L65.30,219.68 L65.80,219.68 L66.30,219.68 L66.80,219.68 L67.30,219.68 L67.80,219.68 L68.30,219.68 L68.80,219.68 L69.30,219.68 L69.80,219.68 L70.30,219.68 L70.80,219.67 L71.30,219.67 L71.80,219.67 L72.30,219.67 L72.80,219.67 L73.30,219.67 L73.80,219.67 L74.30,219.67 L74.80,219.66 L75.30,219.66 L75.80,219.66 L76.30,219.66 L76.80,219.66 L77.30,219.66 L77.80,219.65 L78.30,219.65 L78.80,219.65 L79.30,219.65 L79.80,219.65 L80.30,219.64 L80.80,219.64 L81.30,219.64 L81.80,219.64 L82.30,219.63 L82.80,219.63 L83.30,219.63 L83.80,219.63 L84.30,219.62 L84.80,219.62 L85.30,219.62 L85.80,219.61 L86.30,219.61 L86.80,219.61 L87.30,219.60 L87.80,219.60 L88.30,219.59 L88.80,219.59 L89.30,219.59 L89.80,219.58 L90.30,219.58 L90.80,219.57 L91.30,219.57 L91.80,219.56 L92.30,219.55 L92.80,219.55 L93.30,219.54 L93.80,219.54 L94.30,219.53 L94.80,219.52 L95.30,219.51 L95.80,219.51 L96.30,219.50 L96.80,219.49 L97.30,219.48 L97.80,219.47 L98.30,219.46 L98.80,219.45 L99.30,219.43 L99.80,219.42 L100.30,219.40 L100.80,219.39 L101.30,219.37 L101.80,219.35 L102.30,219.32 L102.80,219.30 L103.30,219.27 L103.80,219.23 L104.30,219.19 L104.80,219.15 L105.30,219.10 L105.80,219.04 L106.30,218.98 L106.80,218.90 L107.30,218.81 L107.80,218.71 L108.30,218.60 L108.80,218.47 L109.30,218.32 L109.80,218.15 L110.30,217.96 L110.80,217.74 L111.30,217.49 L111.80,217.21 L112.30,216.89 L112.80,216.53 L113.30,216.13 L113.80,215.68 L114.30,215.17 L114.80,214.61 L115.30,213.99 L115.80,213.31 L116.30,212.55 L116.80,211.73 L117.30,210.82 L117.80,209.84 L118.30,208.77 L118.80,207.61 L119.30,206.36 L119.80,205.03 L120.30,203.60 L120.80,202.09 L121.30,200.48 L121.80,198.78 L122.30,197.00 L122.80,195.14 L123.30,193.21 L123.80,191.20 L124.30,189.14 L124.80,187.02 L125.30,184.86 L125.80,182.67 L126.30,180.47 L126.80,178.25 L127.30,176.05 L127.80,173.88 L128.30,171.74 L128.80,169.66 L129.30,167.65 L129.80,165.74 L130.30,163.92 L130.80,162.23 L131.30,160.68 L131.80,159.28 L132.30,158.04 L132.80,156.98 L133.30,156.10 L133.80,155.42 L134.30,154.94 L134.80,154.67 L135.30,154.60 L135.80,154.75 L136.30,155.14 L136.80,155.81 L137.30,156.76 L137.80,157.98 L138.30,159.48 L138.80,161.23 L139.30,163.22 L139.80,165.43 L140.30,167.83 L140.80,170.40 L141.30,173.09 L141.80,175.88 L142.30,178.73 L142.80,181.62 L143.30,184.50 L143.80,187.35 L144.30,190.15 L144.80,192.86 L145.30,195.47 L145.80,197.96 L146.30,200.31 L146.80,202.51 L147.30,204.55 L147.80,206.43 L148.30,208.15 L148.80,209.71 L149.30,211.12 L149.80,212.37 L150.30,213.48 L150.80,214.45 L151.30,215.30 L151.80,216.04 L152.30,216.67 L152.80,217.21 L153.30,217.67 L153.80,218.05 L154.30,218.37 L154.80,218.64 L155.30,218.86 L155.80,219.03 L156.30,219.18 L156.80,219.29 L157.30,219.38 L157.80,219.46 L158.30,219.51 L158.80,219.56 L159.30,219.59 L159.80,219.62 L160.30,219.64 L160.80,219.66 L161.30,219.67 L161.80,219.68 L162.30,219.68 L162.80,219.69 L163.30,219.69 L163.80,219.69 L164.30,219.70 L164.80,219.70 L165.30,219.70 L165.80,219.70 L166.30,219.70 L166.80,219.70 L167.30,219.70 L167.80,219.70 L168.30,219.70 L168.80,219.70 L169.30,219.70 L169.80,219.70 L170.30,219.70 L170.80,219.70 L171.30,219.70 L171.80,219.70 L172.30,219.70 L172.80,219.70 L173.30,219.70 L173.80,219.70 L174.30,219.70 L174.80,219.70 L175.30,219.70 L175.80,219.70 L176.30,219.70 L176.80,219.70 L177.30,219.70 L177.80,219.70 L178.30,219.70 L178.80,219.70 L179.30,219.70 L179.80,219.70 L180.30,219.70 L180.80,219.70 L181.30,219.70 L181.80,219.70 L182.30,219.70 L182.80,219.70 L183.30,219.70 L183.80,219.70 L184.30,219.70 L184.80,219.70 L185.30,219.70 L185.80,219.70 L186.30,219.70 L186.80,219.70 L187.30,219.70 L187.80,219.70 L188.30,219.70 L188.80,219.70 L189.30,219.70 L189.80,219.70 L190.30,219.70 L190.80,219.70 L191.30,219.70 L191.80,219.70 L192.30,219.70 L192.80,219.70 L193.30,219.70 L193.80,219.70 L194.30,219.70 L194.80,219.70 L195.30,219.70 L195.80,219.70 L196.30,219.70 L196.80,219.70 L197.30,219.70 L197.80,219.70 L198.30,219.70 L198.80,219.70 L199.30,219.70 L199.80,219.70 L200.30,219.70 L200.80,219.70 L201.30,219.70 L201.80,219.70 L202.30,219.70 L202.80,219.70 L203.30,219.70 L203.80,219.70 L204.30,219.70 L204.80,219.70 L205.30,219.70 L205.80,219.70 L206.30,219.70 L206.80,219.70 L207.30,219.70 L207.80,219.70 L208.30,219.70 L208.80,219.70 L209.30,219.70 L209.80,219.70 L210.30,219.70 L210.80,219.70 L211.30,219.70 L211.80,219.70 L212.30,219.70 L212.80,219.70 L213.30,219.70 L213.80,219.70 L214.30,219.70 L214.80,219.70 L215.30,219.70 L215.80,219.70 L216.30,219.70 L216.80,219.70 L217.30,219.70 L217.80,219.70 L218.30,219.70 L218.80,219.70 L219.30,219.70 L219.80,219.70 L220.30,219.70 L220.80,219.70 L221.30,219.70 L221.80,219.70 L222.30,219.70 L222.80,219.70 L223.30,219.70 L223.80,219.70 L224.30,219.70 L224.80,219.70 L225.30,219.70 L225.80,219.70 L226.30,219.70 L226.80,219.70 L227.30,219.70 L227.80,219.70 L228.30,219.70 L228.80,219.70 L229.30,219.70 L229.80,219.70 L230.30,219.70 L230.80,219.70 L231.30,219.70 L231.80,219.70 L232.30,219.70 L232.80,219.70 L233.30,219.70 L233.80,219.70 L234.30,219.70 L234.80,219.70 L235.30,219.70 L235.80,219.70 L236.30,219.70 L236.80,219.70 L237.30,219.70 L237.80,219.70 L238.30,219.70 L238.80,219.70 L239.30,219.70 L239.80,219.70 L240.30,219.70 L240.80,219.70 L241.30,219.70 L241.80,219.70 L242.30,219.70 L242.80,219.70 L243.30,219.70 L243.80,219.70 L244.30,219.70 L244.80,219.70 L245.30,219.70 L245.80,219.70 L246.30,219.70 L246.80,219.70 L247.30,219.70 L247.80,219.70 L248.30,219.70 L248.80,219.70 L249.30,219.70 L249.80,219.70 L250.30,219.70 L250.80,219.70 L251.30,219.70 L251.80,219.70 L252.30,219.70 L252.80,219.70 L253.30,219.70 L253.80,219.70 L254.30,219.70 L254.80,219.70 L255.30,219.70 L255.80,219.70 L256.30,219.70 L256.80,219.70 L257.30,219.70 L257.80,219.70 L258.30,219.70 L258.80,219.70 L259.30,219.70 L259.80,219.70 L260.30,219.70 L260.80,219.70 L261.30,219.70 L261.80,219.70 L262.30,219.70 L262.80,219.70 L263.30,219.70 L263.80,219.70 L264.30,219.70 L264.80,219.70 L265.30,219.70 L265.80,219.70 L266.30,219.70 L266.80,219.70 L267.30,219.70 L267.80,219.70 L268.30,219.70 L268.80,219.70 L269.30,219.70 L269.80,219.70 L270.30,219.70 L270.80,219.70 L271.30,219.70 L271.80,219.70 L272.30,219.70 L272.80,219.70 L273.30,219.70 L273.80,219.70 L274.30,219.70 L274.80,219.70 L275.30,219.70 L275.80,219.70 L276.30,219.70 L276.80,219.70 L277.30,219.70 L277.80,219.70 L278.30,219.70 L278.80,219.70 L279.30,219.70 L279.80,219.70 L280.30,219.70 L280.80,219.70 L281.30,219.70 L281.80,219.70 L282.30,219.70 L282.80,219.70 L283.30,219.70 L283.80,219.70 L284.30,219.70 L284.80,219.70 L285.30,219.70 L285.80,219.70 L286.30,219.70 L286.80,219.70 L287.30,219.70 L287.80,219.70 L288.30,219.70 L288.80,219.70 L289.30,219.70 L289.80,219.70 L290.30,219.70 L290.80,219.70 L291.30,219.70 L291.80,219.70 L292.30,219.70 L292.80,219.70 L293.30,219.70 L293.80,219.70 L294.30,219.70 L294.80,219.70 L295.30,219.70 L295.80,219.70 L296.30,219.70 L296.80,219.70 L297.30,219.70 L297.80,219.70 L298.30,219.70 L298.80,219.70 L299.30,219.70 L299.80,219.70 L300.30,219.70 L300.80,219.70 L301.30,219.70 L301.80,219.70 L302.30,219.70 L302.80,219.70 L303.30,219.70 L303.80,219.70 L304.30,219.70 L304.80,219.70 L305.30,219.70 L305.80,219.70 L306.30,219.70 L306.80,219.70 L307.30,219.70 L307.80,219.70 L308.30,219.70 L308.80,219.70 L309.30,219.70 L309.80,219.70 L310.30,219.70 L310.80,219.70 L311.30,219.70 L311.80,219.70 L312.30,219.70 L312.80,219.70 L313.30,219.70 L313.80,219.70 L314.30,219.70 L314.80,219.70 L315.30,219.70 L315.80,219.70 L316.30,219.70 L316.80,219.70 L317.30,219.70 L317.80,219.70 L318.30,219.70 L318.80,219.70 L319.30,219.70 L319.80,219.70 L320.30,219.70 L320.80,219.70 L321.30,219.70 L321.80,219.70 L322.30,219.70 L322.80,219.70" fill="none" stroke="#ff20ff" stroke-width="1.4"/>
<path d="M53.80,219.49 L54.30,219.49 L54.80,219.49 L55.30,219.49 L55.80,219.49 L56.30,219.49 L56.80,219.49 L57.30,219.49 L57.80,219.49 L58.30,219.49 L58.80,219.48 L59.30,219.48 L59.80,219.48 L60.30,219.48 L60.80,219.48 L61.30,219.48 L61.80,219.48 L62.30,219.48 L62.80,219.48 L63.30,219.48 L63.80,219.48 L64.30,219.48 L64.80,219.48 L65.30,219.47 L65.80,219.47 L66.30,219.47 L66.80,219.47 L67.30,219.47 L67.80,219.47 L68.30,219.47 L68.80,219.47 L69.30,219.47 L69.80,219.46 L70.30,219.46 L70.80,219.46 L71.30,219.46 L71.80,219.46 L72.30,219.46 L72.80,219.46 L73.30,219.45 L73.80,219.45 L74.30,219.45 L74.80,219.45 L75.30,219.45 L75.80,219.45 L76.30,219.44 L76.80,219.44 L77.30,219.44 L77.80,219.44 L78.30,219.43 L78.80,219.43 L79.30,219.43 L79.80,219.43 L80.30,219.42 L80.80,219.42 L81.30,219.42 L81.80,219.42 L82.30,219.41 L82.80,219.41 L83.30,219.41 L83.80,219.40 L84.30,219.40 L84.80,219.40 L85.30,219.39 L85.80,219.39 L86.30,219.38 L86.80,219.38 L87.30,219.38 L87.80,219.37 L88.30,219.37 L88.80,219.36 L89.30,219.36 L89.80,219.35 L90.30,219.35 L90.80,219.34 L91.30,219.33 L91.80,219.33 L92.30,219.32 L92.80,219.31 L93.30,219.31 L93.80,219.30 L94.30,219.29 L94.80,219.28 L95.30,219.27 L95.80,219.27 L96.30,219.26 L96.80,219.24 L97.30,219.23 L97.80,219.22 L98.30,219.21 L98.80,219.19 L99.30,219.18 L99.80,219.16 L100.30,219.14 L100.80,219.12 L101.30,219.09 L101.80,219.07 L102.30,219.04 L102.80,219.00 L103.30,218.97 L103.80,218.92 L104.30,218.87 L104.80,218.82 L105.30,218.76 L105.80,218.69 L106.30,218.61 L106.80,218.52 L107.30,218.42 L107.80,218.30 L108.30,218.17 L108.80,218.02 L109.30,217.85 L109.80,217.67 L110.30,217.46 L110.80,217.22 L111.30,216.95 L111.80,216.65 L112.30,216.32 L112.80,215.95 L113.30,215.54 L113.80,215.08 L114.30,214.57 L114.80,214.02 L115.30,213.40 L115.80,212.73 L116.30,211.99 L116.80,211.19 L117.30,210.31 L117.80,209.36 L118.30,208.33 L118.80,207.22 L119.30,206.03 L119.80,204.75 L120.30,203.38 L120.80,201.92 L121.30,200.37 L121.80,198.73 L122.30,196.99 L122.80,195.17 L123.30,193.26 L123.80,191.26 L124.30,189.19 L124.80,187.03 L125.30,184.80 L125.80,182.51 L126.30,180.16 L126.80,177.77 L127.30,175.33 L127.80,172.86 L128.30,170.38 L128.80,167.89 L129.30,165.40 L129.80,162.93 L130.30,160.50 L130.80,158.12 L131.30,155.79 L131.80,153.55 L132.30,151.39 L132.80,149.34 L133.30,147.41 L133.80,145.61 L134.30,143.96 L134.80,142.46 L135.30,141.14 L135.80,139.99 L136.30,139.03 L136.80,138.27 L137.30,137.71 L137.80,137.35 L138.30,137.20 L138.80,137.26 L139.30,137.57 L139.80,138.16 L140.30,139.06 L140.80,140.29 L141.30,141.83 L141.80,143.68 L142.30,145.83 L142.80,148.26 L143.30,150.94 L143.80,153.85 L144.30,156.95 L144.80,160.21 L145.30,163.60 L145.80,167.07 L146.30,170.58 L146.80,174.11 L147.30,177.62 L147.80,181.07 L148.30,184.43 L148.80,187.68 L149.30,190.80 L149.80,193.75 L150.30,196.54 L150.80,199.15 L151.30,201.57 L151.80,203.79 L152.30,205.82 L152.80,207.66 L153.30,209.32 L153.80,210.79 L154.30,212.10 L154.80,213.25 L155.30,214.26 L155.80,215.13 L156.30,215.88 L156.80,216.52 L157.30,217.06 L157.80,217.52 L158.30,217.90 L158.80,218.22 L159.30,218.48 L159.80,218.69 L160.30,218.86 L160.80,219.00 L161.30,219.11 L161.80,219.20 L162.30,219.27 L162.80,219.33 L163.30,219.37 L163.80,219.40 L164.30,219.43 L164.80,219.45 L165.30,219.46 L165.80,219.47 L166.30,219.48 L166.80,219.48 L167.30,219.49 L167.80,219.49 L168.30,219.49 L168.80,219.50 L169.30,219.50 L169.80,219.50 L170.30,219.50 L170.80,219.50 L171.30,219.50 L171.80,219.50 L172.30,219.50 L172.80,219.50 L173.30,219.50 L173.80,219.50 L174.30,219.50 L174.80,219.50 L175.30,219.50 L175.80,219.50 L176.30,219.50 L176.80,219.50 L177.30,219.50 L177.80,219.50 L178.30,219.50 L178.80,219.50 L179.30,219.50 L179.80,219.50 L180.30,219.50 L180.80,219.50 L181.30,219.50 L181.80,219.50 L182.30,219.50 L182.80,219.50 L183.30,219.50 L183.80,219.50 L184.30,219.50 L184.80,219.50 L185.30,219.50 L185.80,219.50 L186.30,219.50 L186.80,219.50 L187.30,219.50 L187.80,219.50 L188.30,219.50 L188.80,219.50 L189.30,219.50 L189.80,219.50 L190.30,219.50 L190.80,219.50 L191.30,219.50 L191.80,219.50 L192.30,219.50 L192.80,219.50 L193.30,219.50 L193.80,219.50 L194.30,219.50 L194.80,219.50 L195.30,219.50 L195.80,219.50 L196.30,219.50 L196.80,219.50 L197.30,219.50 L197.80,219.50 L198.30,219.50 L198.80,219.50 L199.30,219.50 L199.80,219.50 L200.30,219.50 L200.80,219.50 L201.30,219.50 L201.80,219.50 L202.30,219.50 L202.80,219.50 L203.30,219.50 L203.80,219.50 L204.30,219.50 L204.80,219.50 L205.30,219.50 L205.80,219.50 L206.30,219.50 L206.80,219.50 L207.30,219.50 L207.80,219.50 L208.30,219.50 L208.80,219.50 L209.30,219.50 L209.80,219.50 L210.30,219.50 L210.80,219.50 L211.30,219.50 L211.80,219.50 L212.30,219.50 L212.80,219.50 L213.30,219.50 L213.80,219.50 L214.30,219.50 L214.80,219.50 L215.30,219.50 L215.80,219.50 L216.30,219.50 L216.80,219.50 L217.30,219.50 L217.80,219.50 L218.30,219.50 L218.80,219.50 L219.30,219.50 L219.80,219.50 L220.30,219.50 L220.80,219.50 L221.30,219.50 L221.80,219.50 L222.30,219.50 L222.80,219.50 L223.30,219.50 L223.80,219.50 L224.30,219.50 L224.80,219.50 L225.30,219.50 L225.80,219.50 L226.30,219.50 L226.80,219.50 L227.30,219.50 L227.80,219.50 L228.30,219.50 L228.80,219.50 L229.30,219.50 L229.80,219.50 L230.30,219.50 L230.80,219.50 L231.30,219.50 L231.80,219.50 L232.30,219.50 L232.80,219.50 L233.30,219.50 L233.80,219.50 L234.30,219.50 L234.80,219.50 L235.30,219.50 L235.80,219.50 L236.30,219.50 L236.80,219.50 L237.30,219.50 L237.80,219.50 L238.30,219.50 L238.80,219.50 L239.30,219.50 L239.80,219.50 L240.30,219.50 L240.80,219.50 L241.30,219.50 L241.80,219.50 L242.30,219.50 L242.80,219.50 L243.30,219.50 L243.80,219.50 L244.30,219.50 L244.80,219.50 L245.30,219.50 L245.80,219.50 L246.30,219.50 L246.80,219.50 L247.30,219.50 L247.80,219.50 L248.30,219.50 L248.80,219.50 L249.30,219.50 L249.80,219.50 L250.30,219.50 L250.80,219.50 L251.30,219.50 L251.80,219.50 L252.30,219.50 L252.80,219.50 L253.30,219.50 L253.80,219.50 L254.30,219.50 L254.80,219.50 L255.30,219.50 L255.80,219.50 L256.30,219.50 L256.80,219.50 L257.30,219.50 L257.80,219.50 L258.30,219.50 L258.80,219.50 L259.30,219.50 L259.80,219.50 L260.30,219.50 L260.80,219.50 L261.30,219.50 L261.80,219.50 L262.30,219.50 L262.80,219.50 L263.30,219.50 L263.80,219.50 L264.30,219.50 L264.80,219.50 L265.30,219.50 L265.80,219.50 L266.30,219.50 L266.80,219.50 L267.30,219.50 L267.80,219.50 L268.30,219.50 L268.80,219.50 L269.30,219.50 L269.80,219.50 L270.30,219.50 L270.80,219.50 L271.30,219.50 L271.80,219.50 L272.30,219.50 L272.80,219.50 L273.30,219.50 L273.80,219.50 L274.30,219.50 L274.80,219.50 L275.30,219.50 L275.80,219.50 L276.30,219.50 L276.80,219.50 L277.30,219.50 L277.80,219.50 L278.30,219.50 L278.80,219.50 L279.30,219.50 L279.80,219.50 L280.30,219.50 L280.80,219.50 L281.30,219.50 L281.80,219.50 L282.30,219.50 L282.80,219.50 L283.30,219.50 L283.80,219.50 L284.30,219.50 L284.80,219.50 L285.30,219.50 L285.80,219.50 L286.30,219.50 L286.80,219.50 L287.30,219.50 L287.80,219.50 L288.30,219.50 L288.80,219.50 L289.30,219.50 L289.80,219.50 L290.30,219.50 L290.80,219.50 L291.30,219.50 L291.80,219.50 L292.30,219.50 L292.80,219.50 L293.30,219.50 L293.80,219.50 L294.30,219.50 L294.80,219.50 L295.30,219.50 L295.80,219.50 L296.30,219.50 L296.80,219.50 L297.30,219.50 L297.80,219.50 L298.30,219.50 L298.80,219.50 L299.30,219.50 L299.80,219.50 L300.30,219.50 L300.80,219.50 L301.30,219.50 L301.80,219.50 L302.30,219.50 L302.80,219.50 L303.30,219.50 L303.80,219.50 L304.30,219.50 L304.80,219.50 L305.30,219.50 L305.80,219.50 L306.30,219.50 L306.80,219.50 L307.30,219.50 L307.80,219.50 L308.30,219.50 L308.80,219.50 L309.30,219.50 L309.80,219.50 L310.30,219.50 L310.80,219.50 L311.30,219.50 L311.80,219.50 L312.30,219.50 L312.80,219.50 L313.30,219.50 L313.80,219.50 L314.30,219.50 L314.80,219.50 L315.30,219.50 L315.80,219.50 L316.30,219.50 L316.80,219.50 L317.30,219.50 L317.80,219.50 L318.30,219.50 L318.80,219.50 L319.30,219.50 L319.80,219.50 L320.30,219.50 L320.80,219.50 L321.30,219.50 L321.80,219.50 L322.30,219.50 L322.80,219.50" fill="none" stroke="#e02020" stroke-width="1.4"/>
<path d="M53.80,219.59 L54.30,219.58 L54.80,219.58 L55.30,219.58 L55.80,219.58 L56.30,219.58 L56.80,219.58 L57.30,219.58 L57.80,219.58 L58.30,219.58 L58.80,219.58 L59.30,219.58 L59.80,219.58 L60.30,219.58 L60.80,219.57 L61.30,219.57 L61.80,219.57 L62.30,219.57 L62.80,219.57 L63.30,219.57 L63.80,219.57 L64.30,219.57 L64.80,219.57 L65.30,219.57 L65.80,219.56 L66.30,219.56 L66.80,219.56 L67.30,219.56 L67.80,219.56 L68.30,219.56 L68.80,219.56 L69.30,219.55 L69.80,219.55 L70.30,219.55 L70.80,219.55 L71.30,219.55 L71.80,219.55 L72.30,219.54 L72.80,219.54 L73.30,219.54 L73.80,219.54 L74.30,219.53 L74.80,219.53 L75.30,219.53 L75.80,219.53 L76.30,219.52 L76.80,219.52 L77.30,219.52 L77.80,219.52 L78.30,219.51 L78.80,219.51 L79.30,219.51 L79.80,219.50 L80.30,219.50 L80.80,219.50 L81.30,219.49 L81.80,219.49 L82.30,219.49 L82.80,219.48 L83.30,219.48 L83.80,219.47 L84.30,219.47 L84.80,219.47 L85.30,219.46 L85.80,219.46 L86.30,219.45 L86.80,219.45 L87.30,219.44 L87.80,219.44 L88.30,219.43 L88.80,219.42 L89.30,219.42 L89.80,219.41 L90.30,219.41 L90.80,219.40 L91.30,219.39 L91.80,219.38 L92.30,219.38 L92.80,219.37 L93.30,219.36 L93.80,219.35 L94.30,219.34 L94.80,219.33 L95.30,219.32 L95.80,219.31 L96.30,219.30 L96.80,219.29 L97.30,219.27 L97.80,219.26 L98.30,219.24 L98.80,219.23 L99.30,219.21 L99.80,219.19 L100.30,219.16 L100.80,219.14 L101.30,219.11 L101.80,219.08 L102.30,219.05 L102.80,219.01 L103.30,218.97 L103.80,218.93 L104.30,218.87 L104.80,218.82 L105.30,218.75 L105.80,218.68 L106.30,218.59 L106.80,218.50 L107.30,218.39 L107.80,218.27 L108.30,218.14 L108.80,217.99 L109.30,217.82 L109.80,217.63 L110.30,217.42 L110.80,217.18 L111.30,216.91 L111.80,216.61 L112.30,216.28 L112.80,215.92 L113.30,215.51 L113.80,215.05 L114.30,214.55 L114.80,214.00 L115.30,213.40 L115.80,212.73 L116.30,212.00 L116.80,211.21 L117.30,210.34 L117.80,209.40 L118.30,208.38 L118.80,207.27 L119.30,206.08 L119.80,204.80 L120.30,203.42 L120.80,201.95 L121.30,200.38 L121.80,198.72 L122.30,196.95 L122.80,195.08 L123.30,193.10 L123.80,191.03 L124.30,188.85 L124.80,186.58 L125.30,184.22 L125.80,181.77 L126.30,179.23 L126.80,176.61 L127.30,173.92 L127.80,171.17 L128.30,168.36 L128.80,165.51 L129.30,162.63 L129.80,159.72 L130.30,156.80 L130.80,153.89 L131.30,151.00 L131.80,148.13 L132.30,145.32 L132.80,142.57 L133.30,139.89 L133.80,137.31 L134.30,134.83 L134.80,132.48 L135.30,130.27 L135.80,128.21 L136.30,126.32 L136.80,124.60 L137.30,123.08 L137.80,121.75 L138.30,120.64 L138.80,119.74 L139.30,119.07 L139.80,118.63 L140.30,118.42 L140.80,118.43 L141.30,118.68 L141.80,119.22 L142.30,120.09 L142.80,121.31 L143.30,122.88 L143.80,124.80 L144.30,127.07 L144.80,129.67 L145.30,132.58 L145.80,135.78 L146.30,139.23 L146.80,142.91 L147.30,146.76 L147.80,150.77 L148.30,154.87 L148.80,159.04 L149.30,163.24 L149.80,167.41 L150.30,171.53 L150.80,175.56 L151.30,179.47 L151.80,183.24 L152.30,186.83 L152.80,190.23 L153.30,193.43 L153.80,196.41 L154.30,199.17 L154.80,201.70 L155.30,204.02 L155.80,206.11 L156.30,207.99 L156.80,209.67 L157.30,211.16 L157.80,212.46 L158.30,213.61 L158.80,214.60 L159.30,215.45 L159.80,216.18 L160.30,216.80 L160.80,217.32 L161.30,217.75 L161.80,218.12 L162.30,218.41 L162.80,218.66 L163.30,218.86 L163.80,219.02 L164.30,219.15 L164.80,219.25 L165.30,219.33 L165.80,219.40 L166.30,219.44 L166.80,219.48 L167.30,219.51 L167.80,219.54 L168.30,219.55 L168.80,219.56 L169.30,219.57 L169.80,219.58 L170.30,219.59 L170.80,219.59 L171.30,219.59 L171.80,219.60 L172.30,219.60 L172.80,219.60 L173.30,219.60 L173.80,219.60 L174.30,219.60 L174.80,219.60 L175.30,219.60 L175.80,219.60 L176.30,219.60 L176.80,219.60 L177.30,219.60 L177.80,219.60 L178.30,219.60 L178.80,219.60 L179.30,219.60 L179.80,219.60 L180.30,219.60 L180.80,219.60 L181.30,219.60 L181.80,219.60 L182.30,219.60 L182.80,219.60 L183.30,219.60 L183.80,219.60 L184.30,219.60 L184.80,219.60 L185.30,219.60 L185.80,219.60 L186.30,219.60 L186.80,219.60 L187.30,219.60 L187.80,219.60 L188.30,219.60 L188.80,219.60 L189.30,219.60 L189.80,219.60 L190.30,219.60 L190.80,219.60 L191.30,219.60 L191.80,219.60 L192.30,219.60 L192.80,219.60 L193.30,219.60 L193.80,219.60 L194.30,219.60 L194.80,219.60 L195.30,219.60 L195.80,219.60 L196.30,219.60 L196.80,219.60 L197.30,219.60 L197.80,219.60 L198.30,219.60 L198.80,219.60 L199.30,219.60 L199.80,219.60 L200.30,219.60 L200.80,219.60 L201.30,219.60 L201.80,219.60 L202.30,219.60 L202.80,219.60 L203.30,219.60 L203.80,219.60 L204.30,219.60 L204.80,219.60 L205.30,219.60 L205.80,219.60 L206.30,219.60 L206.80,219.60 L207.30,219.60 L207.80,219.60 L208.30,219.60 L208.80,219.60 L209.30,219.60 L209.80,219.60 L210.30,219.60 L210.80,219.60 L211.30,219.60 L211.80,219.60 L212.30,219.60 L212.80,219.60 L213.30,219.60 L213.80,219.60 L214.30,219.60 L214.80,219.60 L215.30,219.60 L215.80,219.60 L216.30,219.60 L216.80,219.60 L217.30,219.60 L217.80,219.60 L218.30,219.60 L218.80,219.60 L219.30,219.60 L219.80,219.60 L220.30,219.60 L220.80,219.60 L221.30,219.60 L221.80,219.60 L222.30,219.60 L222.80,219.60 L223.30,219.60 L223.80,219.60 L224.30,219.60 L224.80,219.60 L225.30,219.60 L225.80,219.60 L226.30,219.60 L226.80,219.60 L227.30,219.60 L227.80,219.60 L228.30,219.60 L228.80,219.60 L229.30,219.60 L229.80,219.60 L230.30,219.60 L230.80,219.60 L231.30,219.60 L231.80,219.60 L232.30,219.60 L232.80,219.60 L233.30,219.60 L233.80,219.60 L234.30,219.60 L234.80,219.60 L235.30,219.60 L235.80,219.60 L236.30,219.60 L236.80,219.60 L237.30,219.60 L237.80,219.60 L238.30,219.60 L238.80,219.60 L239.30,219.60 L239.80,219.60 L240.30,219.60 L240.80,219.60 L241.30,219.60 L241.80,219.60 L242.30,219.60 L242.80,219.60 L243.30,219.60 L243.80,219.60 L244.30,219.60 L244.80,219.60 L245.30,219.60 L245.80,219.60 L246.30,219.60 L246.80,219.60 L247.30,219.60 L247.80,219.60 L248.30,219.60 L248.80,219.60 L249.30,219.60 L249.80,219.60 L250.30,219.60 L250.80,219.60 L251.30,219.60 L251.80,219.60 L252.30,219.60 L252.80,219.60 L253.30,219.60 L253.80,219.60 L254.30,219.60 L254.80,219.60 L255.30,219.60 L255.80,219.60 L256.30,219.60 L256.80,219.60 L257.30,219.60 L257.80,219.60 L258.30,219.60 L258.80,219.60 L259.30,219.60 L259.80,219.60 L260.30,219.60 L260.80,219.60 L261.30,219.60 L261.80,219.60 L262.30,219.60 L262.80,219.60 L263.30,219.60 L263.80,219.60 L264.30,219.60 L264.80,219.60 L265.30,219.60 L265.80,219.60 L266.30,219.60 L266.80,219.60 L267.30,219.60 L267.80,219.60 L268.30,219.60 L268.80,219.60 L269.30,219.60 L269.80,219.60 L270.30,219.60 L270.80,219.60 L271.30,219.60 L271.80,219.60 L272.30,219.60 L272.80,219.60 L273.30,219.60 L273.80,219.60 L274.30,219.60 L274.80,219.60 L275.30,219.60 L275.80,219.60 L276.30,219.60 L276.80,219.60 L277.30,219.60 L277.80,219.60 L278.30,219.60 L278.80,219.60 L279.30,219.60 L279.80,219.60 L280.30,219.60 L280.80,219.60 L281.30,219.60 L281.80,219.60 L282.30,219.60 L282.80,219.60 L283.30,219.60 L283.80,219.60 L284.30,219.60 L284.80,219.60 L285.30,219.60 L285.80,219.60 L286.30,219.60 L286.80,219.60 L287.30,219.60 L287.80,219.60 L288.30,219.60 L288.80,219.60 L289.30,219.60 L289.80,219.60 L290.30,219.60 L290.80,219.60 L291.30,219.60 L291.80,219.60 L292.30,219.60 L292.80,219.60 L293.30,219.60 L293.80,219.60 L294.30,219.60 L294.80,219.60 L295.30,219.60 L295.80,219.60 L296.30,219.60 L296.80,219.60 L297.30,219.60 L297.80,219.60 L298.30,219.60 L298.80,219.60 L299.30,219.60 L299.80,219.60 L300.30,219.60 L300.80,219.60 L301.30,219.60 L301.80,219.60 L302.30,219.60 L302.80,219.60 L303.30,219.60 L303.80,219.60 L304.30,219.60 L304.80,219.60 L305.30,219.60 L305.80,219.60 L306.30,219.60 L306.80,219.60 L307.30,219.60 L307.80,219.60 L308.30,219.60 L308.80,219.60 L309.30,219.60 L309.80,219.60 L310.30,219.60 L310.80,219.60 L311.30,219.60 L311.80,219.60 L312.30,219.60 L312.80,219.60 L313.30,219.60 L313.80,219.60 L314.30,219.60 L314.80,219.60 L315.30,219.60 L315.80,219.60 L316.30,219.60 L316.80,219.60 L317.30,219.60 L317.80,219.60 L318.30,219.60 L318.80,219.60 L319.30,219.60 L319.80,219.60 L320.30,219.60 L320.80,219.60 L321.30,219.60 L321.80,219.60 L322.30,219.60 L322.80,219.60" fill="none" stroke="#207020" stroke-width="1.4"/>
<path d="M53.80,220.58 L54.30,220.58 L54.80,220.58 L55.30,220.58 L55.80,220.58 L56.30,220.58 L56.80,220.58 L57.30,220.58 L57.80,220.58 L58.30,220.58 L58.80,220.58 L59.30,220.58 L59.80,220.57 L60.30,220.57 L60.80,220.57 L61.30,220.57 L61.80,220.57 L62.30,220.57 L62.80,220.57 L63.30,220.57 L63.80,220.57 L64.30,220.56 L64.80,220.56 L65.30,220.56 L65.80,220.56 L66.30,220.56 L66.80,220.56 L67.30,220.56 L67.80,220.55 L68.30,220.55 L68.80,220.55 L69.30,220.55 L69.80,220.55 L70.30,220.55 L70.80,220.54 L71.30,220.54 L71.80,220.54 L72.30,220.54 L72.80,220.54 L73.30,220.53 L73.80,220.53 L74.30,220.53 L74.80,220.53 L75.30,220.52 L75.80,220.52 L76.30,220.52 L76.80,220.51 L77.30,220.51 L77.80,220.51 L78.30,220.51 L78.80,220.50 L79.30,220.50 L79.80,220.50 L80.30,220.49 L80.80,220.49 L81.30,220.48 L81.80,220.48 L82.30,220.48 L82.80,220.47 L83.30,220.47 L83.80,220.46 L84.30,220.46 L84.80,220.45 L85.30,220.45 L85.80,220.44 L86.30,220.44 L86.80,220.43 L87.30,220.43 L87.80,220.42 L88.30,220.42 L88.80,220.41 L89.30,220.40 L89.80,220.40 L90.30,220.39 L90.80,220.38 L91.30,220.37 L91.80,220.37 L92.30,220.36 L92.80,220.35 L93.30,220.34 L93.80,220.33 L94.30,220.32 L94.80,220.31 L95.30,220.30 L95.80,220.29 L96.30,220.27 L96.80,220.26 L97.30,220.25 L97.80,220.23 L98.30,220.22 L98.80,220.20 L99.30,220.18 L99.80,220.16 L100.30,220.14 L100.80,220.11 L101.30,220.08 L101.80,220.05 L102.30,220.02 L102.80,219.98 L103.30,219.94 L103.80,219.90 L104.30,219.85 L104.80,219.79 L105.30,219.72 L105.80,219.65 L106.30,219.57 L106.80,219.48 L107.30,219.37 L107.80,219.26 L108.30,219.12 L108.80,218.98 L109.30,218.81 L109.80,218.63 L110.30,218.42 L110.80,218.18 L111.30,217.92 L111.80,217.63 L112.30,217.30 L112.80,216.94 L113.30,216.54 L113.80,216.09 L114.30,215.60 L114.80,215.06 L115.30,214.46 L115.80,213.80 L116.30,213.07 L116.80,212.28 L117.30,211.42 L117.80,210.48 L118.30,209.45 L118.80,208.34 L119.30,207.15 L119.80,205.86 L120.30,204.47 L120.80,202.98 L121.30,201.38 L121.80,199.68 L122.30,197.88 L122.80,195.96 L123.30,193.93 L123.80,191.79 L124.30,189.54 L124.80,187.18 L125.30,184.72 L125.80,182.15 L126.30,179.48 L126.80,176.72 L127.30,173.87 L127.80,170.94 L128.30,167.94 L128.80,164.88 L129.30,161.76 L129.80,158.60 L130.30,155.41 L130.80,152.21 L131.30,149.01 L131.80,145.82 L132.30,142.65 L132.80,139.53 L133.30,136.47 L133.80,133.49 L134.30,130.61 L134.80,127.83 L135.30,125.18 L135.80,122.67 L136.30,120.32 L136.80,118.14 L137.30,116.15 L137.80,114.37 L138.30,112.79 L138.80,111.44 L139.30,110.32 L139.80,109.44 L140.30,108.81 L140.80,108.43 L141.30,108.30 L141.80,108.39 L142.30,108.75 L142.80,109.42 L143.30,110.43 L143.80,111.81 L144.30,113.55 L144.80,115.67 L145.30,118.15 L145.80,120.98 L146.30,124.15 L146.80,127.61 L147.30,131.35 L147.80,135.32 L148.30,139.50 L148.80,143.84 L149.30,148.29 L149.80,152.82 L150.30,157.38 L150.80,161.93 L151.30,166.44 L151.80,170.85 L152.30,175.15 L152.80,179.29 L153.30,183.26 L153.80,187.03 L154.30,190.59 L154.80,193.92 L155.30,197.01 L155.80,199.86 L156.30,202.47 L156.80,204.85 L157.30,206.99 L157.80,208.91 L158.30,210.62 L158.80,212.13 L159.30,213.45 L159.80,214.61 L160.30,215.60 L160.80,216.46 L161.30,217.19 L161.80,217.81 L162.30,218.33 L162.80,218.77 L163.30,219.13 L163.80,219.43 L164.30,219.67 L164.80,219.87 L165.30,220.03 L165.80,220.15 L166.30,220.26 L166.80,220.34 L167.30,220.40 L167.80,220.45 L168.30,220.49 L168.80,220.51 L169.30,220.54 L169.80,220.55 L170.30,220.57 L170.80,220.58 L171.30,220.58 L171.80,220.59 L172.30,220.59 L172.80,220.59 L173.30,220.60 L173.80,220.60 L174.30,220.60 L174.80,220.60 L175.30,220.60 L175.80,220.60 L176.30,220.60 L176.80,220.60 L177.30,220.60 L177.80,220.60 L178.30,220.60 L178.80,220.60 L179.30,220.60 L179.80,220.60 L180.30,220.60 L180.80,220.60 L181.30,220.60 L181.80,220.60 L182.30,220.60 L182.80,220.60 L183.30,220.60 L183.80,220.60 L184.30,220.60 L184.80,220.60 L185.30,220.60 L185.80,220.60 L186.30,220.60 L186.80,220.60 L187.30,220.60 L187.80,220.60 L188.30,220.60 L188.80,220.60 L189.30,220.60 L189.80,220.60 L190.30,220.60 L190.80,220.60 L191.30,220.60 L191.80,220.60 L192.30,220.60 L192.80,220.60 L193.30,220.60 L193.80,220.60 L194.30,220.60 L194.80,220.60 L195.30,220.60 L195.80,220.60 L196.30,220.60 L196.80,220.60 L197.30,220.60 L197.80,220.60 L198.30,220.60 L198.80,220.60 L199.30,220.60 L199.80,220.60 L200.30,220.60 L200.80,220.60 L201.30,220.60 L201.80,220.60 L202.30,220.60 L202.80,220.60 L203.30,220.60 L203.80,220.60 L204.30,220.60 L204.80,220.60 L205.30,220.60 L205.80,220.60 L206.30,220.60 L206.80,220.60 L207.30,220.60 L207.80,220.60 L208.30,220.60 L208.80,220.60 L209.30,220.60 L209.80,220.60 L210.30,220.60 L210.80,220.60 L211.30,220.60 L211.80,220.60 L212.30,220.60 L212.80,220.60 L213.30,220.60 L213.80,220.60 L214.30,220.60 L214.80,220.60 L215.30,220.60 L215.80,220.60 L216.30,220.60 L216.80,220.60 L217.30,220.60 L217.80,220.60 L218.30,220.60 L218.80,220.60 L219.30,220.60 L219.80,220.60 L220.30,220.60 L220.80,220.60 L221.30,220.60 L221.80,220.60 L222.30,220.60 L222.80,220.60 L223.30,220.60 L223.80,220.60 L224.30,220.60 L224.80,220.60 L225.30,220.60 L225.80,220.60 L226.30,220.60 L226.80,220.60 L227.30,220.60 L227.80,220.60 L228.30,220.60 L228.80,220.60 L229.30,220.60 L229.80,220.60 L230.30,220.60 L230.80,220.60 L231.30,220.60 L231.80,220.60 L232.30,220.60 L232.80,220.60 L233.30,220.60 L233.80,220.60 L234.30,220.60 L234.80,220.60 L235.30,220.60 L235.80,220.60 L236.30,220.60 L236.80,220.60 L237.30,220.60 L237.80,220.60 L238.30,220.60 L238.80,220.60 L239.30,220.60 L239.80,220.60 L240.30,220.60 L240.80,220.60 L241.30,220.60 L241.80,220.60 L242.30,220.60 L242.80,220.60 L243.30,220.60 L243.80,220.60 L244.30,220.60 L244.80,220.60 L245.30,220.60 L245.80,220.60 L246.30,220.60 L246.80,220.60 L247.30,220.60 L247.80,220.60 L248.30,220.60 L248.80,220.60 L249.30,220.60 L249.80,220.60 L250.30,220.60 L250.80,220.60 L251.30,220.60 L251.80,220.60 L252.30,220.60 L252.80,220.60 L253.30,220.60 L253.80,220.60 L254.30,220.60 L254.80,220.60 L255.30,220.60 L255.80,220.60 L256.30,220.60 L256.80,220.60 L257.30,220.60 L257.80,220.60 L258.30,220.60 L258.80,220.60 L259.30,220.60 L259.80,220.60 L260.30,220.60 L260.80,220.60 L261.30,220.60 L261.80,220.60 L262.30,220.60 L262.80,220.60 L263.30,220.60 L263.80,220.60 L264.30,220.60 L264.80,220.60 L265.30,220.60 L265.80,220.60 L266.30,220.60 L266.80,220.60 L267.30,220.60 L267.80,220.60 L268.30,220.60 L268.80,220.60 L269.30,220.60 L269.80,220.60 L270.30,220.60 L270.80,220.60 L271.30,220.60 L271.80,220.60 L272.30,220.60 L272.80,220.60 L273.30,220.60 L273.80,220.60 L274.30,220.60 L274.80,220.60 L275.30,220.60 L275.80,220.60 L276.30,220.60 L276.80,220.60 L277.30,220.60 L277.80,220.60 L278.30,220.60 L278.80,220.60 L279.30,220.60 L279.80,220.60 L280.30,220.60 L280.80,220.60 L281.30,220.60 L281.80,220.60 L282.30,220.60 L282.80,220.60 L283.30,220.60 L283.80,220.60 L284.30,220.60 L284.80,220.60 L285.30,220.60 L285.80,220.60 L286.30,220.60 L286.80,220.60 L287.30,220.60 L287.80,220.60 L288.30,220.60 L288.80,220.60 L289.30,220.60 L289.80,220.60 L290.30,220.60 L290.80,220.60 L291.30,220.60 L291.80,220.60 L292.30,220.60 L292.80,220.60 L293.30,220.60 L293.80,220.60 L294.30,220.60 L294.80,220.60 L295.30,220.60 L295.80,220.60 L296.30,220.60 L296.80,220.60 L297.30,220.60 L297.80,220.60 L298.30,220.60 L298.80,220.60 L299.30,220.60 L299.80,220.60 L300.30,220.60 L300.80,220.60 L301.30,220.60 L301.80,220.60 L302.30,220.60 L302.80,220.60 L303.30,220.60 L303.80,220.60 L304.30,220.60 L304.80,220.60 L305.30,220.60 L305.80,220.60 L306.30,220.60 L306.80,220.60 L307.30,220.60 L307.80,220.60 L308.30,220.60 L308.80,220.60 L309.30,220.60 L309.80,220.60 L310.30,220.60 L310.80,220.60 L311.30,220.60 L311.80,220.60 L312.30,220.60 L312.80,220.60 L313.30,220.60 L313.80,220.60 L314.30,220.60 L314.80,220.60 L315.30,220.60 L315.80,220.60 L316.30,220.60 L316.80,220.60 L317.30,220.60 L317.80,220.60 L318.30,220.60 L318.80,220.60 L319.30,220.60 L319.80,220.60 L320.30,220.60 L320.80,220.60 L321.30,220.60 L321.80,220.60 L322.30,220.60 L322.80,220.60" fill="none" stroke="#2020a0" stroke-width="1.4"/>
<path d="M53.80,220.38 L54.30,220.38 L54.80,220.38 L55.30,220.38 L55.80,220.38 L56.30,220.38 L56.80,220.38 L57.30,220.38 L57.80,220.38 L58.30,220.37 L58.80,220.37 L59.30,220.37 L59.80,220.37 L60.30,220.37 L60.80,220.37 L61.30,220.37 L61.80,220.37 L62.30,220.37 L62.80,220.37 L63.30,220.36 L63.80,220.36 L64.30,220.36 L64.80,220.36 L65.30,220.36 L65.80,220.36 L66.30,220.36 L66.80,220.35 L67.30,220.35 L67.80,220.35 L68.30,220.35 L68.80,220.35 L69.30,220.34 L69.80,220.34 L70.30,220.34 L70.80,220.34 L71.30,220.34 L71.80,220.33 L72.30,220.33 L72.80,220.33 L73.30,220.33 L73.80,220.32 L74.30,220.32 L74.80,220.32 L75.30,220.32 L75.80,220.31 L76.30,220.31 L76.80,220.31 L77.30,220.30 L77.80,220.30 L78.30,220.30 L78.80,220.29 L79.30,220.29 L79.80,220.29 L80.30,220.28 L80.80,220.28 L81.30,220.28 L81.80,220.27 L82.30,220.27 L82.80,220.26 L83.30,220.26 L83.80,220.25 L84.30,220.25 L84.80,220.24 L85.30,220.24 L85.80,220.23 L86.30,220.23 L86.80,220.22 L87.30,220.21 L87.80,220.21 L88.30,220.20 L88.80,220.20 L89.30,220.19 L89.80,220.18 L90.30,220.17 L90.80,220.17 L91.30,220.16 L91.80,220.15 L92.30,220.14 L92.80,220.13 L93.30,220.12 L93.80,220.11 L94.30,220.10 L94.80,220.09 L95.30,220.08 L95.80,220.07 L96.30,220.05 L96.80,220.04 L97.30,220.03 L97.80,220.01 L98.30,219.99 L98.80,219.98 L99.30,219.96 L99.80,219.94 L100.30,219.91 L100.80,219.89 L101.30,219.86 L101.80,219.83 L102.30,219.80 L102.80,219.76 L103.30,219.72 L103.80,219.68 L104.30,219.63 L104.80,219.57 L105.30,219.51 L105.80,219.44 L106.30,219.36 L106.80,219.27 L107.30,219.17 L107.80,219.05 L108.30,218.93 L108.80,218.78 L109.30,218.62 L109.80,218.44 L110.30,218.24 L110.80,218.01 L111.30,217.76 L111.80,217.48 L112.30,217.16 L112.80,216.81 L113.30,216.42 L113.80,215.99 L114.30,215.51 L114.80,214.98 L115.30,214.40 L115.80,213.75 L116.30,213.05 L116.80,212.27 L117.30,211.42 L117.80,210.50 L118.30,209.49 L118.80,208.40 L119.30,207.21 L119.80,205.93 L120.30,204.55 L120.80,203.07 L121.30,201.48 L121.80,199.78 L122.30,197.96 L122.80,196.03 L123.30,193.98 L123.80,191.81 L124.30,189.53 L124.80,187.12 L125.30,184.60 L125.80,181.96 L126.30,179.21 L126.80,176.36 L127.30,173.40 L127.80,170.34 L128.30,167.20 L128.80,163.97 L129.30,160.67 L129.80,157.32 L130.30,153.91 L130.80,150.47 L131.30,147.01 L131.80,143.53 L132.30,140.07 L132.80,136.63 L133.30,133.23 L133.80,129.88 L134.30,126.61 L134.80,123.44 L135.30,120.37 L135.80,117.43 L136.30,114.64 L136.80,112.01 L137.30,109.55 L137.80,107.29 L138.30,105.24 L138.80,103.41 L139.30,101.81 L139.80,100.46 L140.30,99.36 L140.80,98.52 L141.30,97.95 L141.80,97.65 L142.30,97.61 L142.80,97.82 L143.30,98.34 L143.80,99.24 L144.30,100.54 L144.80,102.26 L145.30,104.40 L145.80,106.97 L146.30,109.96 L146.80,113.34 L147.30,117.09 L147.80,121.18 L148.30,125.56 L148.80,130.20 L149.30,135.04 L149.80,140.03 L150.30,145.13 L150.80,150.29 L151.30,155.44 L151.80,160.55 L152.30,165.56 L152.80,170.44 L153.30,175.15 L153.80,179.65 L154.30,183.92 L154.80,187.94 L155.30,191.69 L155.80,195.16 L156.30,198.35 L156.80,201.26 L157.30,203.88 L157.80,206.24 L158.30,208.34 L158.80,210.20 L159.30,211.82 L159.80,213.23 L160.30,214.46 L160.80,215.50 L161.30,216.39 L161.80,217.14 L162.30,217.77 L162.80,218.29 L163.30,218.72 L163.80,219.07 L164.30,219.36 L164.80,219.59 L165.30,219.77 L165.80,219.92 L166.30,220.03 L166.80,220.12 L167.30,220.19 L167.80,220.24 L168.30,220.28 L168.80,220.31 L169.30,220.34 L169.80,220.35 L170.30,220.37 L170.80,220.38 L171.30,220.38 L171.80,220.39 L172.30,220.39 L172.80,220.39 L173.30,220.40 L173.80,220.40 L174.30,220.40 L174.80,220.40 L175.30,220.40 L175.80,220.40 L176.30,220.40 L176.80,220.40 L177.30,220.40 L177.80,220.40 L178.30,220.40 L178.80,220.40 L179.30,220.40 L179.80,220.40 L180.30,220.40 L180.80,220.40 L181.30,220.40 L181.80,220.40 L182.30,220.40 L182.80,220.40 L183.30,220.40 L183.80,220.40 L184.30,220.40 L184.80,220.40 L185.30,220.40 L185.80,220.40 L186.30,220.40 L186.80,220.40 L187.30,220.40 L187.80,220.40 L188.30,220.40 L188.80,220.40 L189.30,220.40 L189.80,220.40 L190.30,220.40 L190.80,220.40 L191.30,220.40 L191.80,220.40 L192.30,220.40 L192.80,220.40 L193.30,220.40 L193.80,220.40 L194.30,220.40 L194.80,220.40 L195.30,220.40 L195.80,220.40 L196.30,220.40 L196.80,220.40 L197.30,220.40 L197.80,220.40 L198.30,220.40 L198.80,220.40 L199.30,220.40 L199.80,220.40 L200.30,220.40 L200.80,220.40 L201.30,220.40 L201.80,220.40 L202.30,220.40 L202.80,220.40 L203.30,220.40 L203.80,220.40 L204.30,220.40 L204.80,220.40 L205.30,220.40 L205.80,220.40 L206.30,220.40 L206.80,220.40 L207.30,220.40 L207.80,220.40 L208.30,220.40 L208.80,220.40 L209.30,220.40 L209.80,220.40 L210.30,220.40 L210.80,220.40 L211.30,220.40 L211.80,220.40 L212.30,220.40 L212.80,220.40 L213.30,220.40 L213.80,220.40 L214.30,220.40 L214.80,220.40 L215.30,220.40 L215.80,220.40 L216.30,220.40 L216.80,220.40 L217.30,220.40 L217.80,220.40 L218.30,220.40 L218.80,220.40 L219.30,220.40 L219.80,220.40 L220.30,220.40 L220.80,220.40 L221.30,220.40 L221.80,220.40 L222.30,220.40 L222.80,220.40 L223.30,220.40 L223.80,220.40 L224.30,220.40 L224.80,220.40 L225.30,220.40 L225.80,220.40 L226.30,220.40 L226.80,220.40 L227.30,220.40 L227.80,220.40 L228.30,220.40 L228.80,220.40 L229.30,220.40 L229.80,220.40 L230.30,220.40 L230.80,220.40 L231.30,220.40 L231.80,220.40 L232.30,220.40 L232.80,220.40 L233.30,220.40 L233.80,220.40 L234.30,220.40 L234.80,220.40 L235.30,220.40 L235.80,220.40 L236.30,220.40 L236.80,220.40 L237.30,220.40 L237.80,220.40 L238.30,220.40 L238.80,220.40 L239.30,220.40 L239.80,220.40 L240.30,220.40 L240.80,220.40 L241.30,220.40 L241.80,220.40 L242.30,220.40 L242.80,220.40 L243.30,220.40 L243.80,220.40 L244.30,220.40 L244.80,220.40 L245.30,220.40 L245.80,220.40 L246.30,220.40 L246.80,220.40 L247.30,220.40 L247.80,220.40 L248.30,220.40 L248.80,220.40 L249.30,220.40 L249.80,220.40 L250.30,220.40 L250.80,220.40 L251.30,220.40 L251.80,220.40 L252.30,220.40 L252.80,220.40 L253.30,220.40 L253.80,220.40 L254.30,220.40 L254.80,220.40 L255.30,220.40 L255.80,220.40 L256.30,220.40 L256.80,220.40 L257.30,220.40 L257.80,220.40 L258.30,220.40 L258.80,220.40 L259.30,220.40 L259.80,220.40 L260.30,220.40 L260.80,220.40 L261.30,220.40 L261.80,220.40 L262.30,220.40 L262.80,220.40 L263.30,220.40 L263.80,220.40 L264.30,220.40 L264.80,220.40 L265.30,220.40 L265.80,220.40 L266.30,220.40 L266.80,220.40 L267.30,220.40 L267.80,220.40 L268.30,220.40 L268.80,220.40 L269.30,220.40 L269.80,220.40 L270.30,220.40 L270.80,220.40 L271.30,220.40 L271.80,220.40 L272.30,220.40 L272.80,220.40 L273.30,220.40 L273.80,220.40 L274.30,220.40 L274.80,220.40 L275.30,220.40 L275.80,220.40 L276.30,220.40 L276.80,220.40 L277.30,220.40 L277.80,220.40 L278.30,220.40 L278.80,220.40 L279.30,220.40 L279.80,220.40 L280.30,220.40 L280.80,220.40 L281.30,220.40 L281.80,220.40 L282.30,220.40 L282.80,220.40 L283.30,220.40 L283.80,220.40 L284.30,220.40 L284.80,220.40 L285.30,220.40 L285.80,220.40 L286.30,220.40 L286.80,220.40 L287.30,220.40 L287.80,220.40 L288.30,220.40 L288.80,220.40 L289.30,220.40 L289.80,220.40 L290.30,220.40 L290.80,220.40 L291.30,220.40 L291.80,220.40 L292.30,220.40 L292.80,220.40 L293.30,220.40 L293.80,220.40 L294.30,220.40 L294.80,220.40 L295.30,220.40 L295.80,220.40 L296.30,220.40 L296.80,220.40 L297.30,220.40 L297.80,220.40 L298.30,220.40 L298.80,220.40 L299.30,220.40 L299.80,220.40 L300.30,220.40 L300.80,220.40 L301.30,220.40 L301.80,220.40 L302.30,220.40 L302.80,220.40 L303.30,220.40 L303.80,220.40 L304.30,220.40 L304.80,220.40 L305.30,220.40 L305.80,220.40 L306.30,220.40 L306.80,220.40 L307.30,220.40 L307.80,220.40 L308.30,220.40 L308.80,220.40 L309.30,220.40 L309.80,220.40 L310.30,220.40 L310.80,220.40 L311.30,220.40 L311.80,220.40 L312.30,220.40 L312.80,220.40 L313.30,220.40 L313.80,220.40 L314.30,220.40 L314.80,220.40 L315.30,220.40 L315.80,220.40 L316.30,220.40 L316.80,220.40 L317.30,220.40 L317.80,220.40 L318.30,220.40 L318.80,220.40 L319.30,220.40 L319.80,220.40 L320.30,220.40 L320.80,220.40 L321.30,220.40 L321.80,220.40 L322.30,220.40 L322.80,220.40" fill="none" stroke="#f4a8a8" stroke-width="1.4"/>
<path d="M53.80,219.58 L54.30,219.58 L54.80,219.58 L55.30,219.58 L55.80,219.58 L56.30,219.58 L56.80,219.58 L57.30,219.58 L57.80,219.58 L58.30,219.58 L58.80,219.58 L59.30,219.57 L59.80,219.57 L60.30,219.57 L60.80,219.57 L61.30,219.57 L61.80,219.57 L62.30,219.57 L62.80,219.57 L63.30,219.57 L63.80,219.56 L64.30,219.56 L64.80,219.56 L65.30,219.56 L65.80,219.56 L66.30,219.56 L66.80,219.56 L67.30,219.55 L67.80,219.55 L68.30,219.55 L68.80,219.55 L69.30,219.55 L69.80,219.55 L70.30,219.54 L70.80,219.54 L71.30,219.54 L71.80,219.54 L72.30,219.54 L72.80,219.53 L73.30,219.53 L73.80,219.53 L74.30,219.53 L74.80,219.52 L75.30,219.52 L75.80,219.52 L76.30,219.51 L76.80,219.51 L77.30,219.51 L77.80,219.51 L78.30,219.50 L78.80,219.50 L79.30,219.50 L79.80,219.49 L80.30,219.49 L80.80,219.48 L81.30,219.48 L81.80,219.48 L82.30,219.47 L82.80,219.47 L83.30,219.46 L83.80,219.46 L84.30,219.45 L84.80,219.45 L85.30,219.44 L85.80,219.44 L86.30,219.43 L86.80,219.43 L87.30,219.42 L87.80,219.41 L88.30,219.41 L88.80,219.40 L89.30,219.40 L89.80,219.39 L90.30,219.38 L90.80,219.37 L91.30,219.37 L91.80,219.36 L92.30,219.35 L92.80,219.34 L93.30,219.33 L93.80,219.32 L94.30,219.31 L94.80,219.30 L95.30,219.29 L95.80,219.28 L96.30,219.27 L96.80,219.25 L97.30,219.24 L97.80,219.22 L98.30,219.21 L98.80,219.19 L99.30,219.17 L99.80,219.15 L100.30,219.13 L100.80,219.11 L101.30,219.08 L101.80,219.06 L102.30,219.03 L102.80,218.99 L103.30,218.95 L103.80,218.91 L104.30,218.87 L104.80,218.81 L105.30,218.76 L105.80,218.69 L106.30,218.62 L106.80,218.54 L107.30,218.44 L107.80,218.34 L108.30,218.22 L108.80,218.09 L109.30,217.94 L109.80,217.78 L110.30,217.59 L110.80,217.38 L111.30,217.14 L111.80,216.88 L112.30,216.59 L112.80,216.26 L113.30,215.89 L113.80,215.48 L114.30,215.03 L114.80,214.53 L115.30,213.97 L115.80,213.36 L116.30,212.69 L116.80,211.95 L117.30,211.13 L117.80,210.25 L118.30,209.28 L118.80,208.22 L119.30,207.08 L119.80,205.83 L120.30,204.49 L120.80,203.05 L121.30,201.50 L121.80,199.83 L122.30,198.05 L122.80,196.15 L123.30,194.14 L123.80,192.00 L124.30,189.74 L124.80,187.35 L125.30,184.85 L125.80,182.23 L126.30,179.49 L126.80,176.63 L127.30,173.67 L127.80,170.61 L128.30,167.45 L128.80,164.20 L129.30,160.88 L129.80,157.49 L130.30,154.04 L130.80,150.55 L131.30,147.03 L131.80,143.50 L132.30,139.97 L132.80,136.46 L133.30,132.98 L133.80,129.55 L134.30,126.20 L134.80,122.93 L135.30,119.77 L135.80,116.73 L136.30,113.84 L136.80,111.11 L137.30,108.56 L137.80,106.20 L138.30,104.05 L138.80,102.12 L139.30,100.43 L139.80,98.99 L140.30,97.81 L140.80,96.90 L141.30,96.25 L141.80,95.89 L142.30,95.80 L142.80,95.96 L143.30,96.45 L143.80,97.33 L144.30,98.64 L144.80,100.39 L145.30,102.61 L145.80,105.27 L146.30,108.39 L146.80,111.92 L147.30,115.85 L147.80,120.13 L148.30,124.72 L148.80,129.58 L149.30,134.65 L149.80,139.87 L150.30,145.19 L150.80,150.55 L151.30,155.89 L151.80,161.17 L152.30,166.33 L152.80,171.33 L153.30,176.13 L153.80,180.70 L154.30,185.01 L154.80,189.04 L155.30,192.77 L155.80,196.20 L156.30,199.33 L156.80,202.15 L157.30,204.69 L157.80,206.94 L158.30,208.93 L158.80,210.66 L159.30,212.17 L159.80,213.47 L160.30,214.57 L160.80,215.51 L161.30,216.30 L161.80,216.95 L162.30,217.49 L162.80,217.93 L163.30,218.29 L163.80,218.58 L164.30,218.81 L164.80,219.00 L165.30,219.14 L165.80,219.25 L166.30,219.34 L166.80,219.41 L167.30,219.46 L167.80,219.50 L168.30,219.52 L168.80,219.55 L169.30,219.56 L169.80,219.57 L170.30,219.58 L170.80,219.59 L171.30,219.59 L171.80,219.59 L172.30,219.60 L172.80,219.60 L173.30,219.60 L173.80,219.60 L174.30,219.60 L174.80,219.60 L175.30,219.60 L175.80,219.60 L176.30,219.60 L176.80,219.60 L177.30,219.60 L177.80,219.60 L178.30,219.60 L178.80,219.60 L179.30,219.60 L179.80,219.60 L180.30,219.60 L180.80,219.60 L181.30,219.60 L181.80,219.60 L182.30,219.60 L182.80,219.60 L183.30,219.60 L183.80,219.60 L184.30,219.60 L184.80,219.60 L185.30,219.60 L185.80,219.60 L186.30,219.60 L186.80,219.60 L187.30,219.60 L187.80,219.60 L188.30,219.60 L188.80,219.60 L189.30,219.60 L189.80,219.60 L190.30,219.60 L190.80,219.60 L191.30,219.60 L191.80,219.60 L192.30,219.60 L192.80,219.60 L193.30,219.60 L193.80,219.60 L194.30,219.60 L194.80,219.60 L195.30,219.60 L195.80,219.60 L196.30,219.60 L196.80,219.60 L197.30,219.60 L197.80,219.60 L198.30,219.60 L198.80,219.60 L199.30,219.60 L199.80,219.60 L200.30,219.60 L200.80,219.60 L201.30,219.60 L201.80,219.60 L202.30,219.60 L202.80,219.60 L203.30,219.60 L203.80,219.60 L204.30,219.60 L204.80,219.60 L205.30,219.60 L205.80,219.60 L206.30,219.60 L206.80,219.60 L207.30,219.60 L207.80,219.60 L208.30,219.60 L208.80,219.60 L209.30,219.60 L209.80,219.60 L210.30,219.60 L210.80,219.60 L211.30,219.60 L211.80,219.60 L212.30,219.60 L212.80,219.60 L213.30,219.60 L213.80,219.60 L214.30,219.60 L214.80,219.60 L215.30,219.60 L215.80,219.60 L216.30,219.60 L216.80,219.60 L217.30,219.60 L217.80,219.60 L218.30,219.60 L218.80,219.60 L219.30,219.60 L219.80,219.60 L220.30,219.60 L220.80,219.60 L221.30,219.60 L221.80,219.60 L222.30,219.60 L222.80,219.60 L223.30,219.60 L223.80,219.60 L224.30,219.60 L224.80,219.60 L225.30,219.60 L225.80,219.60 L226.30,219.60 L226.80,219.60 L227.30,219.60 L227.80,219.60 L228.30,219.60 L228.80,219.60 L229.30,219.60 L229.80,219.60 L230.30,219.60 L230.80,219.60 L231.30,219.60 L231.80,219.60 L232.30,219.60 L232.80,219.60 L233.30,219.60 L233.80,219.60 L234.30,219.60 L234.80,219.60 L235.30,219.60 L235.80,219.60 L236.30,219.60 L236.80,219.60 L237.30,219.60 L237.80,219.60 L238.30,219.60 L238.80,219.60 L239.30,219.60 L239.80,219.60 L240.30,219.60 L240.80,219.60 L241.30,219.60 L241.80,219.60 L242.30,219.60 L242.80,219.60 L243.30,219.60 L243.80,219.60 L244.30,219.60 L244.80,219.60 L245.30,219.60 L245.80,219.60 L246.30,219.60 L246.80,219.60 L247.30,219.60 L247.80,219.60 L248.30,219.60 L248.80,219.60 L249.30,219.60 L249.80,219.60 L250.30,219.60 L250.80,219.60 L251.30,219.60 L251.80,219.60 L252.30,219.60 L252.80,219.60 L253.30,219.60 L253.80,219.60 L254.30,219.60 L254.80,219.60 L255.30,219.60 L255.80,219.60 L256.30,219.60 L256.80,219.60 L257.30,219.60 L257.80,219.60 L258.30,219.60 L258.80,219.60 L259.30,219.60 L259.80,219.60 L260.30,219.60 L260.80,219.60 L261.30,219.60 L261.80,219.60 L262.30,219.60 L262.80,219.60 L263.30,219.60 L263.80,219.60 L264.30,219.60 L264.80,219.60 L265.30,219.60 L265.80,219.60 L266.30,219.60 L266.80,219.60 L267.30,219.60 L267.80,219.60 L268.30,219.60 L268.80,219.60 L269.30,219.60 L269.80,219.60 L270.30,219.60 L270.80,219.60 L271.30,219.60 L271.80,219.60 L272.30,219.60 L272.80,219.60 L273.30,219.60 L273.80,219.60 L274.30,219.60 L274.80,219.60 L275.30,219.60 L275.80,219.60 L276.30,219.60 L276.80,219.60 L277.30,219.60 L277.80,219.60 L278.30,219.60 L278.80,219.60 L279.30,219.60 L279.80,219.60 L280.30,219.60 L280.80,219.60 L281.30,219.60 L281.80,219.60 L282.30,219.60 L282.80,219.60 L283.30,219.60 L283.80,219.60 L284.30,219.60 L284.80,219.60 L285.30,219.60 L285.80,219.60 L286.30,219.60 L286.80,219.60 L287.30,219.60 L287.80,219.60 L288.30,219.60 L288.80,219.60 L289.30,219.60 L289.80,219.60 L290.30,219.60 L290.80,219.60 L291.30,219.60 L291.80,219.60 L292.30,219.60 L292.80,219.60 L293.30,219.60 L293.80,219.60 L294.30,219.60 L294.80,219.60 L295.30,219.60 L295.80,219.60 L296.30,219.60 L296.80,219.60 L297.30,219.60 L297.80,219.60 L298.30,219.60 L298.80,219.60 L299.30,219.60 L299.80,219.60 L300.30,219.60 L300.80,219.60 L301.30,219.60 L301.80,219.60 L302.30,219.60 L302.80,219.60 L303.30,219.60 L303.80,219.60 L304.30,219.60 L304.80,219.60 L305.30,219.60 L305.80,219.60 L306.30,219.60 L306.80,219.60 L307.30,219.60 L307.80,219.60 L308.30,219.60 L308.80,219.60 L309.30,219.60 L309.80,219.60 L310.30,219.60 L310.80,219.60 L311.30,219.60 L311.80,219.60 L312.30,219.60 L312.80,219.60 L313.30,219.60 L313.80,219.60 L314.30,219.60 L314.80,219.60 L315.30,219.60 L315.80,219.60 L316.30,219.60 L316.80,219.60 L317.30,219.60 L317.80,219.60 L318.30,219.60 L318.80,219.60 L319.30,219.60 L319.80,219.60 L320.30,219.60 L320.80,219.60 L321.30,219.60 L321.80,219.60 L322.30,219.60 L322.80,219.60" fill="none" stroke="#e06040" stroke-width="1.4"/>
<path d="M53.80,219.68 L54.30,219.68 L54.80,219.68 L55.30,219.68 L55.80,219.68 L56.30,219.68 L56.80,219.68 L57.30,219.67 L57.80,219.67 L58.30,219.67 L58.80,219.67 L59.30,219.67 L59.80,219.67 L60.30,219.67 L60.80,219.67 L61.30,219.67 L61.80,219.66 L62.30,219.66 L62.80,219.66 L63.30,219.66 L63.80,219.66 L64.30,219.66 L64.80,219.66 L65.30,219.65 L65.80,219.65 L66.30,219.65 L66.80,219.65 L67.30,219.65 L67.80,219.65 L68.30,219.64 L68.80,219.64 L69.30,219.64 L69.80,219.64 L70.30,219.64 L70.80,219.63 L71.30,219.63 L71.80,219.63 L72.30,219.63 L72.80,219.62 L73.30,219.62 L73.80,219.62 L74.30,219.62 L74.80,219.61 L75.30,219.61 L75.80,219.61 L76.30,219.60 L76.80,219.60 L77.30,219.60 L77.80,219.59 L78.30,219.59 L78.80,219.59 L79.30,219.58 L79.80,219.58 L80.30,219.57 L80.80,219.57 L81.30,219.56 L81.80,219.56 L82.30,219.56 L82.80,219.55 L83.30,219.55 L83.80,219.54 L84.30,219.53 L84.80,219.53 L85.30,219.52 L85.80,219.52 L86.30,219.51 L86.80,219.50 L87.30,219.50 L87.80,219.49 L88.30,219.48 L88.80,219.48 L89.30,219.47 L89.80,219.46 L90.30,219.45 L90.80,219.44 L91.30,219.44 L91.80,219.43 L92.30,219.42 L92.80,219.41 L93.30,219.40 L93.80,219.39 L94.30,219.38 L94.80,219.36 L95.30,219.35 L95.80,219.34 L96.30,219.33 L96.80,219.31 L97.30,219.30 L97.80,219.28 L98.30,219.27 L98.80,219.25 L99.30,219.23 L99.80,219.21 L100.30,219.19 L100.80,219.16 L101.30,219.14 L101.80,219.11 L102.30,219.08 L102.80,219.05 L103.30,219.01 L103.80,218.97 L104.30,218.93 L104.80,218.88 L105.30,218.82 L105.80,218.76 L106.30,218.69 L106.80,218.61 L107.30,218.53 L107.80,218.43 L108.30,218.32 L108.80,218.20 L109.30,218.06 L109.80,217.90 L110.30,217.73 L110.80,217.53 L111.30,217.31 L111.80,217.06 L112.30,216.78 L112.80,216.47 L113.30,216.13 L113.80,215.74 L114.30,215.31 L114.80,214.84 L115.30,214.31 L115.80,213.72 L116.30,213.07 L116.80,212.36 L117.30,211.57 L117.80,210.71 L118.30,209.77 L118.80,208.73 L119.30,207.60 L119.80,206.38 L120.30,205.05 L120.80,203.60 L121.30,202.05 L121.80,200.37 L122.30,198.57 L122.80,196.64 L123.30,194.57 L123.80,192.37 L124.30,190.03 L124.80,187.54 L125.30,184.92 L125.80,182.15 L126.30,179.24 L126.80,176.20 L127.30,173.01 L127.80,169.69 L128.30,166.24 L128.80,162.67 L129.30,158.99 L129.80,155.20 L130.30,151.32 L130.80,147.36 L131.30,143.32 L131.80,139.23 L132.30,135.10 L132.80,130.95 L133.30,126.79 L133.80,122.65 L134.30,118.53 L134.80,114.47 L135.30,110.48 L135.80,106.58 L136.30,102.80 L136.80,99.16 L137.30,95.67 L137.80,92.36 L138.30,89.25 L138.80,86.36 L139.30,83.70 L139.80,81.29 L140.30,79.15 L140.80,77.30 L141.30,75.74 L141.80,74.48 L142.30,73.54 L142.80,72.92 L143.30,72.63 L143.80,72.62 L144.30,72.84 L144.80,73.33 L145.30,74.17 L145.80,75.37 L146.30,76.97 L146.80,78.97 L147.30,81.39 L147.80,84.22 L148.30,87.46 L148.80,91.08 L149.30,95.08 L149.80,99.42 L150.30,104.07 L150.80,108.99 L151.30,114.15 L151.80,119.50 L152.30,124.99 L152.80,130.58 L153.30,136.22 L153.80,141.87 L154.30,147.48 L154.80,153.00 L155.30,158.40 L155.80,163.64 L156.30,168.68 L156.80,173.51 L157.30,178.10 L157.80,182.42 L158.30,186.48 L158.80,190.25 L159.30,193.73 L159.80,196.92 L160.30,199.83 L160.80,202.47 L161.30,204.84 L161.80,206.96 L162.30,208.83 L162.80,210.49 L163.30,211.94 L163.80,213.20 L164.30,214.28 L164.80,215.22 L165.30,216.01 L165.80,216.68 L166.30,217.25 L166.80,217.72 L167.30,218.11 L167.80,218.43 L168.30,218.69 L168.80,218.91 L169.30,219.08 L169.80,219.22 L170.30,219.33 L170.80,219.41 L171.30,219.48 L171.80,219.53 L172.30,219.58 L172.80,219.61 L173.30,219.63 L173.80,219.65 L174.30,219.66 L174.80,219.67 L175.30,219.68 L175.80,219.69 L176.30,219.69 L176.80,219.69 L177.30,219.70 L177.80,219.70 L178.30,219.70 L178.80,219.70 L179.30,219.70 L179.80,219.70 L180.30,219.70 L180.80,219.70 L181.30,219.70 L181.80,219.70 L182.30,219.70 L182.80,219.70 L183.30,219.70 L183.80,219.70 L184.30,219.70 L184.80,219.70 L185.30,219.70 L185.80,219.70 L186.30,219.70 L186.80,219.70 L187.30,219.70 L187.80,219.70 L188.30,219.70 L188.80,219.70 L189.30,219.70 L189.80,219.70 L190.30,219.70 L190.80,219.70 L191.30,219.70 L191.80,219.70 L192.30,219.70 L192.80,219.70 L193.30,219.70 L193.80,219.70 L194.30,219.70 L194.80,219.70 L195.30,219.70 L195.80,219.70 L196.30,219.70 L196.80,219.70 L197.30,219.70 L197.80,219.70 L198.30,219.70 L198.80,219.70 L199.30,219.70 L199.80,219.70 L200.30,219.70 L200.80,219.70 L201.30,219.70 L201.80,219.70 L202.30,219.70 L202.80,219.70 L203.30,219.70 L203.80,219.70 L204.30,219.70 L204.80,219.70 L205.30,219.70 L205.80,219.70 L206.30,219.70 L206.80,219.70 L207.30,219.70 L207.80,219.70 L208.30,219.70 L208.80,219.70 L209.30,219.70 L209.80,219.70 L210.30,219.70 L210.80,219.70 L211.30,219.70 L211.80,219.70 L212.30,219.70 L212.80,219.70 L213.30,219.70 L213.80,219.70 L214.30,219.70 L214.80,219.70 L215.30,219.70 L215.80,219.70 L216.30,219.70 L216.80,219.70 L217.30,219.70 L217.80,219.70 L218.30,219.70 L218.80,219.70 L219.30,219.70 L219.80,219.70 L220.30,219.70 L220.80,219.70 L221.30,219.70 L221.80,219.70 L222.30,219.70 L222.80,219.70 L223.30,219.70 L223.80,219.70 L224.30,219.70 L224.80,219.70 L225.30,219.70 L225.80,219.70 L226.30,219.70 L226.80,219.70 L227.30,219.70 L227.80,219.70 L228.30,219.70 L228.80,219.70 L229.30,219.70 L229.80,219.70 L230.30,219.70 L230.80,219.70 L231.30,219.70 L231.80,219.70 L232.30,219.70 L232.80,219.70 L233.30,219.70 L233.80,219.70 L234.30,219.70 L234.80,219.70 L235.30,219.70 L235.80,219.70 L236.30,219.70 L236.80,219.70 L237.30,219.70 L237.80,219.70 L238.30,219.70 L238.80,219.70 L239.30,219.70 L239.80,219.70 L240.30,219.70 L240.80,219.70 L241.30,219.70 L241.80,219.70 L242.30,219.70 L242.80,219.70 L243.30,219.70 L243.80,219.70 L244.30,219.70 L244.80,219.70 L245.30,219.70 L245.80,219.70 L246.30,219.70 L246.80,219.70 L247.30,219.70 L247.80,219.70 L248.30,219.70 L248.80,219.70 L249.30,219.70 L249.80,219.70 L250.30,219.70 L250.80,219.70 L251.30,219.70 L251.80,219.70 L252.30,219.70 L252.80,219.70 L253.30,219.70 L253.80,219.70 L254.30,219.70 L254.80,219.70 L255.30,219.70 L255.80,219.70 L256.30,219.70 L256.80,219.70 L257.30,219.70 L257.80,219.70 L258.30,219.70 L258.80,219.70 L259.30,219.70 L259.80,219.70 L260.30,219.70 L260.80,219.70 L261.30,219.70 L261.80,219.70 L262.30,219.70 L262.80,219.70 L263.30,219.70 L263.80,219.70 L264.30,219.70 L264.80,219.70 L265.30,219.70 L265.80,219.70 L266.30,219.70 L266.80,219.70 L267.30,219.70 L267.80,219.70 L268.30,219.70 L268.80,219.70 L269.30,219.70 L269.80,219.70 L270.30,219.70 L270.80,219.70 L271.30,219.70 L271.80,219.70 L272.30,219.70 L272.80,219.70 L273.30,219.70 L273.80,219.70 L274.30,219.70 L274.80,219.70 L275.30,219.70 L275.80,219.70 L276.30,219.70 L276.80,219.70 L277.30,219.70 L277.80,219.70 L278.30,219.70 L278.80,219.70 L279.30,219.70 L279.80,219.70 L280.30,219.70 L280.80,219.70 L281.30,219.70 L281.80,219.70 L282.30,219.70 L282.80,219.70 L283.30,219.70 L283.80,219.70 L284.30,219.70 L284.80,219.70 L285.30,219.70 L285.80,219.70 L286.30,219.70 L286.80,219.70 L287.30,219.70 L287.80,219.70 L288.30,219.70 L288.80,219.70 L289.30,219.70 L289.80,219.70 L290.30,219.70 L290.80,219.70 L291.30,219.70 L291.80,219.70 L292.30,219.70 L292.80,219.70 L293.30,219.70 L293.80,219.70 L294.30,219.70 L294.80,219.70 L295.30,219.70 L295.80,219.70 L296.30,219.70 L296.80,219.70 L297.30,219.70 L297.80,219.70 L298.30,219.70 L298.80,219.70 L299.30,219.70 L299.80,219.70 L300.30,219.70 L300.80,219.70 L301.30,219.70 L301.80,219.70 L302.30,219.70 L302.80,219.70 L303.30,219.70 L303.80,219.70 L304.30,219.70 L304.80,219.70 L305.30,219.70 L305.80,219.70 L306.30,219.70 L306.80,219.70 L307.30,219.70 L307.80,219.70 L308.30,219.70 L308.80,219.70 L309.30,219.70 L309.80,219.70 L310.30,219.70 L310.80,219.70 L311.30,219.70 L311.80,219.70 L312.30,219.70 L312.80,219.70 L313.30,219.70 L313.80,219.70 L314.30,219.70 L314.80,219.70 L315.30,219.70 L315.80,219.70 L316.30,219.70 L316.80,219.70 L317.30,219.70 L317.80,219.70 L318.30,219.70 L318.80,219.70 L319.30,219.70 L319.80,219.70 L320.30,219.70 L320.80,219.70 L321.30,219.70 L321.80,219.70 L322.30,219.70 L322.80,219.70" fill="none" stroke="#30d030" stroke-width="1.4"/>
<path d="M53.80,219.78 L54.30,219.78 L54.80,219.78 L55.30,219.77 L55.80,219.77 L56.30,219.77 L56.80,219.77 L57.30,219.77 L57.80,219.77 L58.30,219.77 L58.80,219.77 L59.30,219.77 L59.80,219.77 L60.30,219.76 L60.80,219.76 L61.30,219.76 L61.80,219.76 L62.30,219.76 L62.80,219.76 L63.30,219.76 L63.80,219.76 L64.30,219.75 L64.80,219.75 L65.30,219.75 L65.80,219.75 L66.30,219.75 L66.80,219.75 L67.30,219.75 L67.80,219.74 L68.30,219.74 L68.80,219.74 L69.30,219.74 L69.80,219.74 L70.30,219.73 L70.80,219.73 L71.30,219.73 L71.80,219.73 L72.30,219.73 L72.80,219.72 L73.30,219.72 L73.80,219.72 L74.30,219.72 L74.80,219.71 L75.30,219.71 L75.80,219.71 L76.30,219.71 L76.80,219.70 L77.30,219.70 L77.80,219.70 L78.30,219.69 L78.80,219.69 L79.30,219.69 L79.80,219.68 L80.30,219.68 L80.80,219.68 L81.30,219.67 L81.80,219.67 L82.30,219.67 L82.80,219.66 L83.30,219.66 L83.80,219.65 L84.30,219.65 L84.80,219.64 L85.30,219.64 L85.80,219.63 L86.30,219.63 L86.80,219.62 L87.30,219.62 L87.80,219.61 L88.30,219.61 L88.80,219.60 L89.30,219.59 L89.80,219.59 L90.30,219.58 L90.80,219.57 L91.30,219.56 L91.80,219.56 L92.30,219.55 L92.80,219.54 L93.30,219.53 L93.80,219.52 L94.30,219.51 L94.80,219.49 L95.30,219.48 L95.80,219.47 L96.30,219.45 L96.80,219.44 L97.30,219.42 L97.80,219.40 L98.30,219.38 L98.80,219.35 L99.30,219.33 L99.80,219.30 L100.30,219.26 L100.80,219.23 L101.30,219.19 L101.80,219.14 L102.30,219.09 L102.80,219.03 L103.30,218.97 L103.80,218.90 L104.30,218.82 L104.80,218.73 L105.30,218.63 L105.80,218.52 L106.30,218.39 L106.80,218.25 L107.30,218.10 L107.80,217.92 L108.30,217.73 L108.80,217.51 L109.30,217.27 L109.80,217.00 L110.30,216.70 L110.80,216.37 L111.30,216.01 L111.80,215.61 L112.30,215.16 L112.80,214.67 L113.30,214.14 L113.80,213.55 L114.30,212.90 L114.80,212.20 L115.30,211.43 L115.80,210.59 L116.30,209.68 L116.80,208.69 L117.30,207.62 L117.80,206.47 L118.30,205.22 L118.80,203.88 L119.30,202.44 L119.80,200.90 L120.30,199.25 L120.80,197.49 L121.30,195.61 L121.80,193.62 L122.30,191.51 L122.80,189.28 L123.30,186.92 L123.80,184.44 L124.30,181.83 L124.80,179.10 L125.30,176.24 L125.80,173.26 L126.30,170.16 L126.80,166.94 L127.30,163.60 L127.80,160.16 L128.30,156.62 L128.80,152.98 L129.30,149.25 L129.80,145.44 L130.30,141.56 L130.80,137.62 L131.30,133.63 L131.80,129.61 L132.30,125.56 L132.80,121.50 L133.30,117.45 L133.80,113.42 L134.30,109.42 L134.80,105.48 L135.30,101.60 L135.80,97.80 L136.30,94.11 L136.80,90.53 L137.30,87.09 L137.80,83.79 L138.30,80.67 L138.80,77.72 L139.30,74.97 L139.80,72.43 L140.30,70.11 L140.80,68.03 L141.30,66.19 L141.80,64.61 L142.30,63.30 L142.80,62.26 L143.30,61.49 L143.80,61.01 L144.30,60.81 L144.80,60.83 L145.30,61.04 L145.80,61.48 L146.30,62.20 L146.80,63.22 L147.30,64.58 L147.80,66.28 L148.30,68.33 L148.80,70.74 L149.30,73.51 L149.80,76.63 L150.30,80.09 L150.80,83.89 L151.30,87.98 L151.80,92.36 L152.30,97.00 L152.80,101.87 L153.30,106.94 L153.80,112.16 L154.30,117.51 L154.80,122.95 L155.30,128.44 L155.80,133.94 L156.30,139.42 L156.80,144.85 L157.30,150.18 L157.80,155.40 L158.30,160.47 L158.80,165.36 L159.30,170.06 L159.80,174.55 L160.30,178.81 L160.80,182.83 L161.30,186.60 L161.80,190.12 L162.30,193.39 L162.80,196.40 L163.30,199.16 L163.80,201.68 L164.30,203.97 L164.80,206.04 L165.30,207.89 L165.80,209.54 L166.30,211.01 L166.80,212.30 L167.30,213.43 L167.80,214.42 L168.30,215.28 L168.80,216.02 L169.30,216.66 L169.80,217.20 L170.30,217.66 L170.80,218.05 L171.30,218.37 L171.80,218.64 L172.30,218.87 L172.80,219.05 L173.30,219.20 L173.80,219.33 L174.30,219.43 L174.80,219.51 L175.30,219.57 L175.80,219.62 L176.30,219.66 L176.80,219.70 L177.30,219.72 L177.80,219.74 L178.30,219.75 L178.80,219.77 L179.30,219.77 L179.80,219.78 L180.30,219.79 L180.80,219.79 L181.30,219.79 L181.80,219.79 L182.30,219.80 L182.80,219.80 L183.30,219.80 L183.80,219.80 L184.30,219.80 L184.80,219.80 L185.30,219.80 L185.80,219.80 L186.30,219.80 L186.80,219.80 L187.30,219.80 L187.80,219.80 L188.30,219.80 L188.80,219.80 L189.30,219.80 L189.80,219.80 L190.30,219.80 L190.80,219.80 L191.30,219.80 L191.80,219.80 L192.30,219.80 L192.80,219.80 L193.30,219.80 L193.80,219.80 L194.30,219.80 L194.80,219.80 L195.30,219.80 L195.80,219.80 L196.30,219.80 L196.80,219.80 L197.30,219.80 L197.80,219.80 L198.30,219.80 L198.80,219.80 L199.30,219.80 L199.80,219.80 L200.30,219.80 L200.80,219.80 L201.30,219.80 L201.80,219.80 L202.30,219.80 L202.80,219.80 L203.30,219.80 L203.80,219.80 L204.30,219.80 L204.80,219.80 L205.30,219.80 L205.80,219.80 L206.30,219.80 L206.80,219.80 L207.30,219.80 L207.80,219.80 L208.30,219.80 L208.80,219.80 L209.30,219.80 L209.80,219.80 L210.30,219.80 L210.80,219.80 L211.30,219.80 L211.80,219.80 L212.30,219.80 L212.80,219.80 L213.30,219.80 L213.80,219.80 L214.30,219.80 L214.80,219.80 L215.30,219.80 L215.80,219.80 L216.30,219.80 L216.80,219.80 L217.30,219.80 L217.80,219.80 L218.30,219.80 L218.80,219.80 L219.30,219.80 L219.80,219.80 L220.30,219.80 L220.80,219.80 L221.30,219.80 L221.80,219.80 L222.30,219.80 L222.80,219.80 L223.30,219.80 L223.80,219.80 L224.30,219.80 L224.80,219.80 L225.30,219.80 L225.80,219.80 L226.30,219.80 L226.80,219.80 L227.30,219.80 L227.80,219.80 L228.30,219.80 L228.80,219.80 L229.30,219.80 L229.80,219.80 L230.30,219.80 L230.80,219.80 L231.30,219.80 L231.80,219.80 L232.30,219.80 L232.80,219.80 L233.30,219.80 L233.80,219.80 L234.30,219.80 L234.80,219.80 L235.30,219.80 L235.80,219.80 L236.30,219.80 L236.80,219.80 L237.30,219.80 L237.80,219.80 L238.30,219.80 L238.80,219.80 L239.30,219.80 L239.80,219.80 L240.30,219.80 L240.80,219.80 L241.30,219.80 L241.80,219.80 L242.30,219.80 L242.80,219.80 L243.30,219.80 L243.80,219.80 L244.30,219.80 L244.80,219.80 L245.30,219.80 L245.80,219.80 L246.30,219.80 L246.80,219.80 L247.30,219.80 L247.80,219.80 L248.30,219.80 L248.80,219.80 L249.30,219.80 L249.80,219.80 L250.30,219.80 L250.80,219.80 L251.30,219.80 L251.80,219.80 L252.30,219.80 L252.80,219.80 L253.30,219.80 L253.80,219.80 L254.30,219.80 L254.80,219.80 L255.30,219.80 L255.80,219.80 L256.30,219.80 L256.80,219.80 L257.30,219.80 L257.80,219.80 L258.30,219.80 L258.80,219.80 L259.30,219.80 L259.80,219.80 L260.30,219.80 L260.80,219.80 L261.30,219.80 L261.80,219.80 L262.30,219.80 L262.80,219.80 L263.30,219.80 L263.80,219.80 L264.30,219.80 L264.80,219.80 L265.30,219.80 L265.80,219.80 L266.30,219.80 L266.80,219.80 L267.30,219.80 L267.80,219.80 L268.30,219.80 L268.80,219.80 L269.30,219.80 L269.80,219.80 L270.30,219.80 L270.80,219.80 L271.30,219.80 L271.80,219.80 L272.30,219.80 L272.80,219.80 L273.30,219.80 L273.80,219.80 L274.30,219.80 L274.80,219.80 L275.30,219.80 L275.80,219.80 L276.30,219.80 L276.80,219.80 L277.30,219.80 L277.80,219.80 L278.30,219.80 L278.80,219.80 L279.30,219.80 L279.80,219.80 L280.30,219.80 L280.80,219.80 L281.30,219.80 L281.80,219.80 L282.30,219.80 L282.80,219.80 L283.30,219.80 L283.80,219.80 L284.30,219.80 L284.80,219.80 L285.30,219.80 L285.80,219.80 L286.30,219.80 L286.80,219.80 L287.30,219.80 L287.80,219.80 L288.30,219.80 L288.80,219.80 L289.30,219.80 L289.80,219.80 L290.30,219.80 L290.80,219.80 L291.30,219.80 L291.80,219.80 L292.30,219.80 L292.80,219.80 L293.30,219.80 L293.80,219.80 L294.30,219.80 L294.80,219.80 L295.30,219.80 L295.80,219.80 L296.30,219.80 L296.80,219.80 L297.30,219.80 L297.80,219.80 L298.30,219.80 L298.80,219.80 L299.30,219.80 L299.80,219.80 L300.30,219.80 L300.80,219.80 L301.30,219.80 L301.80,219.80 L302.30,219.80 L302.80,219.80 L303.30,219.80 L303.80,219.80 L304.30,219.80 L304.80,219.80 L305.30,219.80 L305.80,219.80 L306.30,219.80 L306.80,219.80 L307.30,219.80 L307.80,219.80 L308.30,219.80 L308.80,219.80 L309.30,219.80 L309.80,219.80 L310.30,219.80 L310.80,219.80 L311.30,219.80 L311.80,219.80 L312.30,219.80 L312.80,219.80 L313.30,219.80 L313.80,219.80 L314.30,219.80 L314.80,219.80 L315.30,219.80 L315.80,219.80 L316.30,219.80 L316.80,219.80 L317.30,219.80 L317.80,219.80 L318.30,219.80 L318.80,219.80 L319.30,219.80 L319.80,219.80 L320.30,219.80 L320.80,219.80 L321.30,219.80 L321.80,219.80 L322.30,219.80 L322.80,219.80" fill="none" stroke="#e040e0" stroke-width="1.4"/>
<path d="M53.80,219.17 L54.30,219.16 L54.80,219.16 L55.30,219.16 L55.80,219.16 L56.30,219.16 L56.80,219.16 L57.30,219.16 L57.80,219.16 L58.30,219.16 L58.80,219.15 L59.30,219.15 L59.80,219.15 L60.30,219.15 L60.80,219.15 L61.30,219.15 L61.80,219.15 L62.30,219.14 L62.80,219.14 L63.30,219.14 L63.80,219.14 L64.30,219.14 L64.80,219.14 L65.30,219.13 L65.80,219.13 L66.30,219.13 L66.80,219.13 L67.30,219.13 L67.80,219.12 L68.30,219.12 L68.80,219.12 L69.30,219.12 L69.80,219.12 L70.30,219.11 L70.80,219.11 L71.30,219.11 L71.80,219.11 L72.30,219.10 L72.80,219.10 L73.30,219.10 L73.80,219.10 L74.30,219.09 L74.80,219.09 L75.30,219.09 L75.80,219.08 L76.30,219.08 L76.80,219.08 L77.30,219.07 L77.80,219.07 L78.30,219.07 L78.80,219.06 L79.30,219.06 L79.80,219.06 L80.30,219.05 L80.80,219.05 L81.30,219.04 L81.80,219.04 L82.30,219.03 L82.80,219.03 L83.30,219.02 L83.80,219.02 L84.30,219.01 L84.80,219.01 L85.30,219.00 L85.80,219.00 L86.30,218.99 L86.80,218.98 L87.30,218.98 L87.80,218.97 L88.30,218.96 L88.80,218.95 L89.30,218.94 L89.80,218.93 L90.30,218.92 L90.80,218.91 L91.30,218.90 L91.80,218.89 L92.30,218.87 L92.80,218.86 L93.30,218.84 L93.80,218.82 L94.30,218.80 L94.80,218.78 L95.30,218.76 L95.80,218.73 L96.30,218.70 L96.80,218.67 L97.30,218.63 L97.80,218.59 L98.30,218.55 L98.80,218.50 L99.30,218.45 L99.80,218.39 L100.30,218.32 L100.80,218.24 L101.30,218.16 L101.80,218.07 L102.30,217.96 L102.80,217.85 L103.30,217.72 L103.80,217.58 L104.30,217.43 L104.80,217.26 L105.30,217.07 L105.80,216.86 L106.30,216.63 L106.80,216.37 L107.30,216.09 L107.80,215.79 L108.30,215.45 L108.80,215.08 L109.30,214.68 L109.80,214.23 L110.30,213.75 L110.80,213.22 L111.30,212.65 L111.80,212.03 L112.30,211.35 L112.80,210.62 L113.30,209.83 L113.80,208.98 L114.30,208.06 L114.80,207.07 L115.30,206.00 L115.80,204.86 L116.30,203.64 L116.80,202.33 L117.30,200.93 L117.80,199.44 L118.30,197.86 L118.80,196.18 L119.30,194.40 L119.80,192.51 L120.30,190.52 L120.80,188.42 L121.30,186.22 L121.80,183.90 L122.30,181.47 L122.80,178.92 L123.30,176.27 L123.80,173.50 L124.30,170.62 L124.80,167.63 L125.30,164.54 L125.80,161.34 L126.30,158.04 L126.80,154.64 L127.30,151.15 L127.80,147.57 L128.30,143.91 L128.80,140.18 L129.30,136.38 L129.80,132.52 L130.30,128.62 L130.80,124.67 L131.30,120.70 L131.80,116.70 L132.30,112.70 L132.80,108.70 L133.30,104.72 L133.80,100.76 L134.30,96.85 L134.80,92.99 L135.30,89.21 L135.80,85.50 L136.30,81.88 L136.80,78.38 L137.30,75.00 L137.80,71.75 L138.30,68.65 L138.80,65.71 L139.30,62.94 L139.80,60.36 L140.30,57.97 L140.80,55.79 L141.30,53.82 L141.80,52.07 L142.30,50.56 L142.80,49.28 L143.30,48.25 L143.80,47.46 L144.30,46.93 L144.80,46.65 L145.30,46.61 L145.80,46.75 L146.30,47.15 L146.80,47.86 L147.30,48.93 L147.80,50.39 L148.30,52.26 L148.80,54.56 L149.30,57.31 L149.80,60.49 L150.30,64.10 L150.80,68.14 L151.30,72.57 L151.80,77.38 L152.30,82.54 L152.80,88.00 L153.30,93.74 L153.80,99.70 L154.30,105.84 L154.80,112.12 L155.30,118.48 L155.80,124.87 L156.30,131.24 L156.80,137.56 L157.30,143.77 L157.80,149.83 L158.30,155.70 L158.80,161.36 L159.30,166.77 L159.80,171.91 L160.30,176.76 L160.80,181.31 L161.30,185.54 L161.80,189.46 L162.30,193.06 L162.80,196.35 L163.30,199.33 L163.80,202.02 L164.30,204.42 L164.80,206.56 L165.30,208.45 L165.80,210.11 L166.30,211.56 L166.80,212.82 L167.30,213.90 L167.80,214.82 L168.30,215.60 L168.80,216.26 L169.30,216.82 L169.80,217.28 L170.30,217.66 L170.80,217.98 L171.30,218.23 L171.80,218.44 L172.30,218.60 L172.80,218.74 L173.30,218.84 L173.80,218.93 L174.30,218.99 L174.80,219.04 L175.30,219.08 L175.80,219.11 L176.30,219.13 L176.80,219.15 L177.30,219.16 L177.80,219.17 L178.30,219.18 L178.80,219.19 L179.30,219.19 L179.80,219.19 L180.30,219.20 L180.80,219.20 L181.30,219.20 L181.80,219.20 L182.30,219.20 L182.80,219.20 L183.30,219.20 L183.80,219.20 L184.30,219.20 L184.80,219.20 L185.30,219.20 L185.80,219.20 L186.30,219.20 L186.80,219.20 L187.30,219.20 L187.80,219.20 L188.30,219.20 L188.80,219.20 L189.30,219.20 L189.80,219.20 L190.30,219.20 L190.80,219.20 L191.30,219.20 L191.80,219.20 L192.30,219.20 L192.80,219.20 L193.30,219.20 L193.80,219.20 L194.30,219.20 L194.80,219.20 L195.30,219.20 L195.80,219.20 L196.30,219.20 L196.80,219.20 L197.30,219.20 L197.80,219.20 L198.30,219.20 L198.80,219.20 L199.30,219.20 L199.80,219.20 L200.30,219.20 L200.80,219.20 L201.30,219.20 L201.80,219.20 L202.30,219.20 L202.80,219.20 L203.30,219.20 L203.80,219.20 L204.30,219.20 L204.80,219.20 L205.30,219.20 L205.80,219.20 L206.30,219.20 L206.80,219.20 L207.30,219.20 L207.80,219.20 L208.30,219.20 L208.80,219.20 L209.30,219.20 L209.80,219.20 L210.30,219.20 L210.80,219.20 L211.30,219.20 L211.80,219.20 L212.30,219.20 L212.80,219.20 L213.30,219.20 L213.80,219.20 L214.30,219.20 L214.80,219.20 L215.30,219.20 L215.80,219.20 L216.30,219.20 L216.80,219.20 L217.30,219.20 L217.80,219.20 L218.30,219.20 L218.80,219.20 L219.30,219.20 L219.80,219.20 L220.30,219.20 L220.80,219.20 L221.30,219.20 L221.80,219.20 L222.30,219.20 L222.80,219.20 L223.30,219.20 L223.80,219.20 L224.30,219.20 L224.80,219.20 L225.30,219.20 L225.80,219.20 L226.30,219.20 L226.80,219.20 L227.30,219.20 L227.80,219.20 L228.30,219.20 L228.80,219.20 L229.30,219.20 L229.80,219.20 L230.30,219.20 L230.80,219.20 L231.30,219.20 L231.80,219.20 L232.30,219.20 L232.80,219.20 L233.30,219.20 L233.80,219.20 L234.30,219.20 L234.80,219.20 L235.30,219.20 L235.80,219.20 L236.30,219.20 L236.80,219.20 L237.30,219.20 L237.80,219.20 L238.30,219.20 L238.80,219.20 L239.30,219.20 L239.80,219.20 L240.30,219.20 L240.80,219.20 L241.30,219.20 L241.80,219.20 L242.30,219.20 L242.80,219.20 L243.30,219.20 L243.80,219.20 L244.30,219.20 L244.80,219.20 L245.30,219.20 L245.80,219.20 L246.30,219.20 L246.80,219.20 L247.30,219.20 L247.80,219.20 L248.30,219.20 L248.80,219.20 L249.30,219.20 L249.80,219.20 L250.30,219.20 L250.80,219.20 L251.30,219.20 L251.80,219.20 L252.30,219.20 L252.80,219.20 L253.30,219.20 L253.80,219.20 L254.30,219.20 L254.80,219.20 L255.30,219.20 L255.80,219.20 L256.30,219.20 L256.80,219.20 L257.30,219.20 L257.80,219.20 L258.30,219.20 L258.80,219.20 L259.30,219.20 L259.80,219.20 L260.30,219.20 L260.80,219.20 L261.30,219.20 L261.80,219.20 L262.30,219.20 L262.80,219.20 L263.30,219.20 L263.80,219.20 L264.30,219.20 L264.80,219.20 L265.30,219.20 L265.80,219.20 L266.30,219.20 L266.80,219.20 L267.30,219.20 L267.80,219.20 L268.30,219.20 L268.80,219.20 L269.30,219.20 L269.80,219.20 L270.30,219.20 L270.80,219.20 L271.30,219.20 L271.80,219.20 L272.30,219.20 L272.80,219.20 L273.30,219.20 L273.80,219.20 L274.30,219.20 L274.80,219.20 L275.30,219.20 L275.80,219.20 L276.30,219.20 L276.80,219.20 L277.30,219.20 L277.80,219.20 L278.30,219.20 L278.80,219.20 L279.30,219.20 L279.80,219.20 L280.30,219.20 L280.80,219.20 L281.30,219.20 L281.80,219.20 L282.30,219.20 L282.80,219.20 L283.30,219.20 L283.80,219.20 L284.30,219.20 L284.80,219.20 L285.30,219.20 L285.80,219.20 L286.30,219.20 L286.80,219.20 L287.30,219.20 L287.80,219.20 L288.30,219.20 L288.80,219.20 L289.30,219.20 L289.80,219.20 L290.30,219.20 L290.80,219.20 L291.30,219.20 L291.80,219.20 L292.30,219.20 L292.80,219.20 L293.30,219.20 L293.80,219.20 L294.30,219.20 L294.80,219.20 L295.30,219.20 L295.80,219.20 L296.30,219.20 L296.80,219.20 L297.30,219.20 L297.80,219.20 L298.30,219.20 L298.80,219.20 L299.30,219.20 L299.80,219.20 L300.30,219.20 L300.80,219.20 L301.30,219.20 L301.80,219.20 L302.30,219.20 L302.80,219.20 L303.30,219.20 L303.80,219.20 L304.30,219.20 L304.80,219.20 L305.30,219.20 L305.80,219.20 L306.30,219.20 L306.80,219.20 L307.30,219.20 L307.80,219.20 L308.30,219.20 L308.80,219.20 L309.30,219.20 L309.80,219.20 L310.30,219.20 L310.80,219.20 L311.30,219.20 L311.80,219.20 L312.30,219.20 L312.80,219.20 L313.30,219.20 L313.80,219.20 L314.30,219.20 L314.80,219.20 L315.30,219.20 L315.80,219.20 L316.30,219.20 L316.80,219.20 L317.30,219.20 L317.80,219.20 L318.30,219.20 L318.80,219.20 L319.30,219.20 L319.80,219.20 L320.30,219.20 L320.80,219.20 L321.30,219.20 L321.80,219.20 L322.30,219.20 L322.80,219.20" fill="none" stroke="#2828d8" stroke-width="1.4"/>
</g>
<rect x="53.0" y="10.0" width="270.6" height="211.5" fill="none" stroke="#000" stroke-width="1.4"/>
<line x1="48.0" y1="221.30" x2="53.0" y2="221.30" stroke="#000" stroke-width="1.2"/>
<text transform="translate(45.6,222.60) scale(1.13,1)" text-anchor="end" class="tka">0</text>
<line x1="50.0" y1="197.85" x2="53.0" y2="197.85" stroke="#000" stroke-width="1.2"/>
<line x1="48.0" y1="174.40" x2="53.0" y2="174.40" stroke="#000" stroke-width="1.2"/>
<text transform="translate(45.6,175.70) scale(1.13,1)" text-anchor="end" class="tka">2</text>
<line x1="50.0" y1="150.95" x2="53.0" y2="150.95" stroke="#000" stroke-width="1.2"/>
<line x1="48.0" y1="127.50" x2="53.0" y2="127.50" stroke="#000" stroke-width="1.2"/>
<text transform="translate(45.6,128.80) scale(1.13,1)" text-anchor="end" class="tka">4</text>
<line x1="50.0" y1="104.05" x2="53.0" y2="104.05" stroke="#000" stroke-width="1.2"/>
<line x1="48.0" y1="80.60" x2="53.0" y2="80.60" stroke="#000" stroke-width="1.2"/>
<text transform="translate(45.6,81.90) scale(1.13,1)" text-anchor="end" class="tka">6</text>
<line x1="50.0" y1="57.15" x2="53.0" y2="57.15" stroke="#000" stroke-width="1.2"/>
<line x1="48.0" y1="33.70" x2="53.0" y2="33.70" stroke="#000" stroke-width="1.2"/>
<text transform="translate(45.6,35.00) scale(1.13,1)" text-anchor="end" class="tka">8</text>
<line x1="50.0" y1="10.25" x2="53.0" y2="10.25" stroke="#000" stroke-width="1.2"/>
<line x1="52.80" y1="221.5" x2="52.80" y2="226.5" stroke="#000" stroke-width="1.2"/>
<text transform="translate(52.80,235.8) scale(1.13,1)" text-anchor="middle" class="tka">-1.0</text>
<line x1="91.58" y1="221.5" x2="91.58" y2="224.5" stroke="#000" stroke-width="1.2"/>
<line x1="130.36" y1="221.5" x2="130.36" y2="226.5" stroke="#000" stroke-width="1.2"/>
<text transform="translate(130.36,235.8) scale(1.13,1)" text-anchor="middle" class="tka">-0.8</text>
<line x1="169.14" y1="221.5" x2="169.14" y2="224.5" stroke="#000" stroke-width="1.2"/>
<line x1="207.92" y1="221.5" x2="207.92" y2="226.5" stroke="#000" stroke-width="1.2"/>
<text transform="translate(207.92,235.8) scale(1.13,1)" text-anchor="middle" class="tka">-0.6</text>
<line x1="246.70" y1="221.5" x2="246.70" y2="224.5" stroke="#000" stroke-width="1.2"/>
<line x1="285.48" y1="221.5" x2="285.48" y2="226.5" stroke="#000" stroke-width="1.2"/>
<text transform="translate(285.48,235.8) scale(1.13,1)" text-anchor="middle" class="tka">-0.4</text>
<line x1="323.60" y1="221.5" x2="323.60" y2="224.5" stroke="#000" stroke-width="1.2"/>
<text transform="translate(113.4,250.1) scale(1.183,1)" class="ti">Potential (V). Vs. Ag/Agcl</text>
<text transform="translate(29.2,117.2) rotate(-90) scale(1.14,1)" text-anchor="middle" class="ti">Current (µA)</text>
<text transform="translate(0.3,38.6) scale(1.075,1)" class="pl" style="font-size:28px">A</text>
<text transform="translate(21.9,38.6) scale(0.82,1)" class="pl" style="font-size:28px">)</text>
<line x1="185.8" y1="203.5" x2="185.8" y2="52" stroke="#000" stroke-width="1.3"/>
<polygon points="185.8,47.5 183.9,54.5 187.7,54.5" fill="#000"/>
<text transform="translate(165.6,46.3) scale(1.12,1)" class="an">120 µgL</text>
<text transform="translate(205.6,40.7) scale(0.95,1)" class="sp">-1</text>
<text transform="translate(168.2,213.1) scale(1.12,1)" class="an">2.3 µgL</text>
<text transform="translate(205.4,207.7) scale(0.95,1)" class="sp">-1</text>
<g clip-path="url(#clipB)">
<line x1="389" y1="215.3" x2="640.7" y2="36.3" stroke="#000" stroke-width="2"/>
<g stroke="#a8a8ff" stroke-width="0.8"><line x1="514.5" y1="117.4" x2="514.5" y2="126.2"/><line x1="512.5" y1="117.4" x2="516.5" y2="117.4"/><line x1="512.5" y1="126.2" x2="516.5" y2="126.2"/></g>
<g stroke="#a8a8ff" stroke-width="0.8"><line x1="544.1" y1="98.5" x2="544.1" y2="110.3"/><line x1="542.1" y1="98.5" x2="546.1" y2="98.5"/><line x1="542.1" y1="110.3" x2="546.1" y2="110.3"/></g>
<g stroke="#a8a8ff" stroke-width="0.8"><line x1="583.8" y1="64.7" x2="583.8" y2="79.2"/><line x1="581.8" y1="64.7" x2="585.8" y2="64.7"/><line x1="581.8" y1="79.2" x2="585.8" y2="79.2"/></g>
<g stroke="#a8a8ff" stroke-width="0.8"><line x1="625.6" y1="44.4" x2="625.6" y2="60.6"/><line x1="623.6" y1="44.4" x2="627.6" y2="44.4"/><line x1="623.6" y1="60.6" x2="627.6" y2="60.6"/></g>
<circle cx="389.3" cy="212.9" r="3.5" fill="#0c0ce2"/>
<circle cx="390.3" cy="211.2" r="3.5" fill="#0c0ce2"/>
<circle cx="391.6" cy="210.4" r="3.5" fill="#0c0ce2"/>
<circle cx="396.0" cy="207.2" r="3.5" fill="#0c0ce2"/>
<circle cx="405.7" cy="200.4" r="3.5" fill="#0c0ce2"/>
<circle cx="425.3" cy="186.4" r="3.5" fill="#0c0ce2"/>
<circle cx="445" cy="172.1" r="3.5" fill="#0c0ce2"/>
<circle cx="464.6" cy="156.5" r="3.5" fill="#0c0ce2"/>
<circle cx="484.5" cy="143" r="3.5" fill="#0c0ce2"/>
<circle cx="514.5" cy="121.8" r="3.5" fill="#0c0ce2"/>
<circle cx="544.1" cy="104.1" r="3.5" fill="#0c0ce2"/>
<circle cx="583.8" cy="71.7" r="3.5" fill="#0c0ce2"/>
<circle cx="625.6" cy="52.7" r="3.5" fill="#0c0ce2"/>
</g>
<rect x="388.6" y="5.2" width="276.1" height="211.0" fill="none" stroke="#000" stroke-width="1.4"/>
<line x1="383.6" y1="216.10" x2="388.6" y2="216.10" stroke="#000" stroke-width="1.2"/>
<text transform="translate(380.6,219.60) scale(1.08,1)" text-anchor="end" class="tkb">0</text>
<line x1="385.6" y1="195.01" x2="388.6" y2="195.01" stroke="#000" stroke-width="1.2"/>
<line x1="383.6" y1="173.92" x2="388.6" y2="173.92" stroke="#000" stroke-width="1.2"/>
<text transform="translate(380.6,177.42) scale(1.08,1)" text-anchor="end" class="tkb">2</text>
<line x1="385.6" y1="152.83" x2="388.6" y2="152.83" stroke="#000" stroke-width="1.2"/>
<line x1="383.6" y1="131.74" x2="388.6" y2="131.74" stroke="#000" stroke-width="1.2"/>
<text transform="translate(380.6,135.24) scale(1.08,1)" text-anchor="end" class="tkb">4</text>
<line x1="385.6" y1="110.65" x2="388.6" y2="110.65" stroke="#000" stroke-width="1.2"/>
<line x1="383.6" y1="89.56" x2="388.6" y2="89.56" stroke="#000" stroke-width="1.2"/>
<text transform="translate(380.6,93.06) scale(1.08,1)" text-anchor="end" class="tkb">6</text>
<line x1="385.6" y1="68.47" x2="388.6" y2="68.47" stroke="#000" stroke-width="1.2"/>
<line x1="383.6" y1="47.38" x2="388.6" y2="47.38" stroke="#000" stroke-width="1.2"/>
<text transform="translate(380.6,50.88) scale(1.08,1)" text-anchor="end" class="tkb">8</text>
<line x1="385.6" y1="26.29" x2="388.6" y2="26.29" stroke="#000" stroke-width="1.2"/>
<line x1="383.6" y1="5.20" x2="388.6" y2="5.20" stroke="#000" stroke-width="1.2"/>
<text transform="translate(380.6,8.70) scale(1.08,1)" text-anchor="end" class="tkb">10</text>
<line x1="388.60" y1="216.2" x2="388.60" y2="221.2" stroke="#000" stroke-width="1.2"/>
<text transform="translate(388.60,231.9) scale(1.08,1)" text-anchor="middle" class="tkb">0</text>
<line x1="408.32" y1="216.2" x2="408.32" y2="219.2" stroke="#000" stroke-width="1.2"/>
<line x1="428.04" y1="216.2" x2="428.04" y2="221.2" stroke="#000" stroke-width="1.2"/>
<text transform="translate(428.04,231.9) scale(1.08,1)" text-anchor="middle" class="tkb">20</text>
<line x1="447.77" y1="216.2" x2="447.77" y2="219.2" stroke="#000" stroke-width="1.2"/>
<line x1="467.49" y1="216.2" x2="467.49" y2="221.2" stroke="#000" stroke-width="1.2"/>
<text transform="translate(467.49,231.9) scale(1.08,1)" text-anchor="middle" class="tkb">40</text>
<line x1="487.21" y1="216.2" x2="487.21" y2="219.2" stroke="#000" stroke-width="1.2"/>
<line x1="506.93" y1="216.2" x2="506.93" y2="221.2" stroke="#000" stroke-width="1.2"/>
<text transform="translate(506.93,231.9) scale(1.08,1)" text-anchor="middle" class="tkb">60</text>
<line x1="526.65" y1="216.2" x2="526.65" y2="219.2" stroke="#000" stroke-width="1.2"/>
<line x1="546.38" y1="216.2" x2="546.38" y2="221.2" stroke="#000" stroke-width="1.2"/>
<text transform="translate(546.38,231.9) scale(1.08,1)" text-anchor="middle" class="tkb">80</text>
<line x1="566.10" y1="216.2" x2="566.10" y2="219.2" stroke="#000" stroke-width="1.2"/>
<line x1="585.82" y1="216.2" x2="585.82" y2="221.2" stroke="#000" stroke-width="1.2"/>
<text transform="translate(585.82,231.9) scale(1.08,1)" text-anchor="middle" class="tkb">100</text>
<line x1="605.54" y1="216.2" x2="605.54" y2="219.2" stroke="#000" stroke-width="1.2"/>
<line x1="625.26" y1="216.2" x2="625.26" y2="221.2" stroke="#000" stroke-width="1.2"/>
<text transform="translate(625.26,231.9) scale(1.08,1)" text-anchor="middle" class="tkb">120</text>
<line x1="644.99" y1="216.2" x2="644.99" y2="219.2" stroke="#000" stroke-width="1.2"/>
<line x1="664.71" y1="216.2" x2="664.71" y2="221.2" stroke="#000" stroke-width="1.2"/>
<text transform="translate(664.71,231.9) scale(1.08,1)" text-anchor="middle" class="tkb">140</text>
<text transform="translate(438.1,250.6) scale(1.192464,1)" class="ti">Concentration of Cd(II) µgL</text>
<text transform="translate(605.1,245.3) scale(0.97,1)" class="sp2">-1</text>
<text transform="translate(354.6,102) rotate(-90) scale(1.14,1)" text-anchor="middle" class="ti">Current (µA)</text>
<text transform="translate(352.9,36.6) scale(0.9,1)" class="pl" style="font-size:29.5px">B</text>
<text transform="translate(373.6,36.6) scale(0.82,1)" class="pl" style="font-size:28px">)</text>
<text x="551.3" y="130.3" class="eq">y=0.6409+2.332x</text>
<text x="551.5" y="144" class="eq">R</text>
<text x="559.4" y="138.2" style="font-size:5.6px;stroke-width:0.15px">2</text>
<text transform="translate(562.2,144) scale(1.016,1)" class="eq">= 0.9954</text>
</svg>
</body></html>
